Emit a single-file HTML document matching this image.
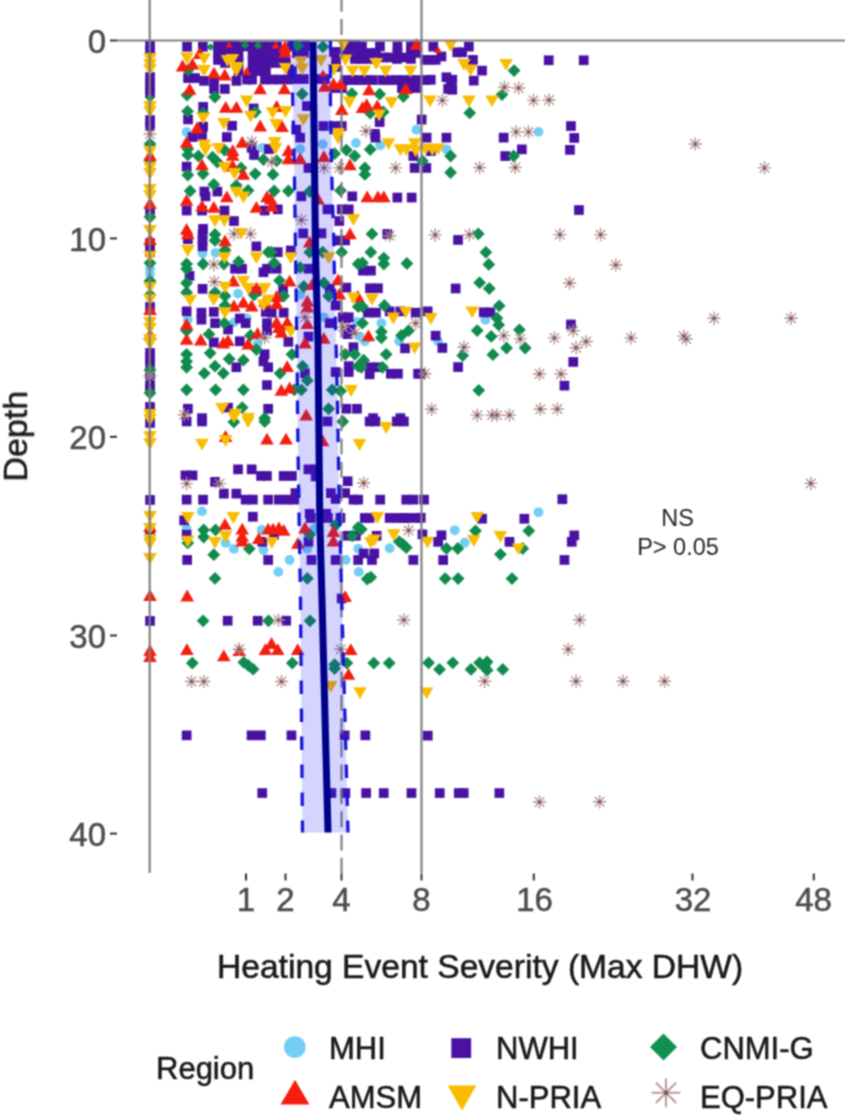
<!DOCTYPE html>
<html><head><meta charset="utf-8">
<style>
html,body{margin:0;padding:0;background:#fff;}
body{width:845px;height:1115px;overflow:hidden;position:relative;}
svg{position:absolute;left:0;top:0;}
text{font-family:"Liberation Sans",sans-serif;}
</style></head><body>
<svg width="845" height="1115" viewBox="0 0 845 1115">
<defs><filter id="bl" filterUnits="userSpaceOnUse" x="0" y="0" width="845" height="1115" color-interpolation-filters="sRGB"><feConvolveMatrix order="3" kernelMatrix="1 2 1 2 4 2 1 2 1" divisor="16" edgeMode="duplicate"/></filter></defs>
<g filter="url(#bl)">
<rect x="0" y="0" width="845" height="1115" fill="#fff"/>
<g id="pts"><circle cx="186.6" cy="132" r="4.9" fill="#72cff3"/>
<circle cx="416.4" cy="129.7" r="4.9" fill="#72cff3"/>
<circle cx="262.3" cy="147.8" r="4.9" fill="#72cff3"/>
<circle cx="300.2" cy="148.9" r="4.9" fill="#72cff3"/>
<circle cx="322.7" cy="144.2" r="4.9" fill="#72cff3"/>
<circle cx="355.9" cy="143" r="4.9" fill="#72cff3"/>
<circle cx="380.2" cy="145.4" r="4.9" fill="#72cff3"/>
<circle cx="187.8" cy="319.7" r="4.9" fill="#72cff3"/>
<circle cx="202.5" cy="253.4" r="4.9" fill="#72cff3"/>
<circle cx="215.6" cy="252.8" r="4.9" fill="#72cff3"/>
<circle cx="238" cy="293.6" r="4.9" fill="#72cff3"/>
<circle cx="246.9" cy="318.5" r="4.9" fill="#72cff3"/>
<circle cx="300.2" cy="294.8" r="4.9" fill="#72cff3"/>
<circle cx="323.9" cy="317.3" r="4.9" fill="#72cff3"/>
<circle cx="357" cy="322" r="4.9" fill="#72cff3"/>
<circle cx="381.4" cy="323.2" r="4.9" fill="#72cff3"/>
<circle cx="150" cy="269" r="4.9" fill="#72cff3"/>
<circle cx="150" cy="274" r="4.9" fill="#72cff3"/>
<circle cx="233.9" cy="322.4" r="4.9" fill="#72cff3"/>
<circle cx="257.6" cy="343.7" r="4.9" fill="#72cff3"/>
<circle cx="360.1" cy="336.6" r="4.9" fill="#72cff3"/>
<circle cx="364.9" cy="341.3" r="4.9" fill="#72cff3"/>
<circle cx="399.2" cy="341.3" r="4.9" fill="#72cff3"/>
<circle cx="202" cy="511.4" r="4.9" fill="#72cff3"/>
<circle cx="186.6" cy="528.7" r="4.9" fill="#72cff3"/>
<circle cx="225.6" cy="542.9" r="4.9" fill="#72cff3"/>
<circle cx="233.9" cy="548.8" r="4.9" fill="#72cff3"/>
<circle cx="261.7" cy="529.9" r="4.9" fill="#72cff3"/>
<circle cx="263.5" cy="550" r="4.9" fill="#72cff3"/>
<circle cx="314.4" cy="528.7" r="4.9" fill="#72cff3"/>
<circle cx="307.3" cy="548.8" r="4.9" fill="#72cff3"/>
<circle cx="358.2" cy="548.8" r="4.9" fill="#72cff3"/>
<circle cx="289.6" cy="560" r="4.9" fill="#72cff3"/>
<circle cx="345.8" cy="560" r="4.9" fill="#72cff3"/>
<circle cx="278.3" cy="571.9" r="4.9" fill="#72cff3"/>
<circle cx="358.8" cy="571.9" r="4.9" fill="#72cff3"/>
<circle cx="389.7" cy="548.2" r="4.9" fill="#72cff3"/>
<circle cx="538.5" cy="512.3" r="4.9" fill="#72cff3"/>
<circle cx="538.5" cy="131.9" r="4.9" fill="#72cff3"/>
<circle cx="446.5" cy="149.3" r="4.9" fill="#72cff3"/>
<circle cx="485.4" cy="319.9" r="4.9" fill="#72cff3"/>
<circle cx="438.2" cy="341.4" r="4.9" fill="#72cff3"/>
<circle cx="454.8" cy="530.3" r="4.9" fill="#72cff3"/>
<circle cx="464.7" cy="542.7" r="4.9" fill="#72cff3"/>
<rect x="182.2" y="41.9" width="9.7" height="9.7" fill="#4a12a4"/>
<rect x="198" y="41.9" width="9.7" height="9.7" fill="#4a12a4"/>
<rect x="213.2" y="41.1" width="9.7" height="9.7" fill="#4a12a4"/>
<rect x="221.2" y="41.1" width="9.7" height="9.7" fill="#4a12a4"/>
<rect x="229.2" y="41.1" width="9.7" height="9.7" fill="#4a12a4"/>
<rect x="213.2" y="48.1" width="9.7" height="9.7" fill="#4a12a4"/>
<rect x="221.2" y="48.1" width="9.7" height="9.7" fill="#4a12a4"/>
<rect x="229.2" y="48.1" width="9.7" height="9.7" fill="#4a12a4"/>
<rect x="213.2" y="55.1" width="9.7" height="9.7" fill="#4a12a4"/>
<rect x="220.2" y="58.1" width="9.7" height="9.7" fill="#4a12a4"/>
<rect x="183.2" y="73.2" width="9.7" height="9.7" fill="#4a12a4"/>
<rect x="190.2" y="73.2" width="9.7" height="9.7" fill="#4a12a4"/>
<rect x="199.2" y="76" width="9.7" height="9.7" fill="#4a12a4"/>
<rect x="209.2" y="76.9" width="9.7" height="9.7" fill="#4a12a4"/>
<rect x="231.6" y="76" width="9.7" height="9.7" fill="#4a12a4"/>
<rect x="209.2" y="84.1" width="9.7" height="9.7" fill="#4a12a4"/>
<rect x="220" y="84.1" width="9.7" height="9.7" fill="#4a12a4"/>
<rect x="183.2" y="114.6" width="9.7" height="9.7" fill="#4a12a4"/>
<rect x="198.3" y="102" width="9.7" height="9.7" fill="#4a12a4"/>
<rect x="198.3" y="121.8" width="9.7" height="9.7" fill="#4a12a4"/>
<rect x="227.2" y="120.9" width="9.7" height="9.7" fill="#4a12a4"/>
<rect x="357.1" y="41.6" width="9.7" height="9.7" fill="#4a12a4"/>
<rect x="375.1" y="41.6" width="9.7" height="9.7" fill="#4a12a4"/>
<rect x="392.6" y="41.6" width="9.7" height="9.7" fill="#4a12a4"/>
<rect x="406.1" y="41.6" width="9.7" height="9.7" fill="#4a12a4"/>
<rect x="411.1" y="41.6" width="9.7" height="9.7" fill="#4a12a4"/>
<rect x="357.1" y="48.1" width="9.7" height="9.7" fill="#4a12a4"/>
<rect x="364.1" y="48.1" width="9.7" height="9.7" fill="#4a12a4"/>
<rect x="371.1" y="48.1" width="9.7" height="9.7" fill="#4a12a4"/>
<rect x="392.6" y="48.1" width="9.7" height="9.7" fill="#4a12a4"/>
<rect x="406.1" y="48.1" width="9.7" height="9.7" fill="#4a12a4"/>
<rect x="411.1" y="48.1" width="9.7" height="9.7" fill="#4a12a4"/>
<rect x="378.1" y="52.6" width="9.7" height="9.7" fill="#4a12a4"/>
<rect x="385.1" y="52.6" width="9.7" height="9.7" fill="#4a12a4"/>
<rect x="399.1" y="52.6" width="9.7" height="9.7" fill="#4a12a4"/>
<rect x="233.7" y="41.6" width="9.7" height="9.7" fill="#4a12a4"/>
<rect x="241.2" y="41.6" width="9.7" height="9.7" fill="#4a12a4"/>
<rect x="247.7" y="41.6" width="9.7" height="9.7" fill="#4a12a4"/>
<rect x="256.1" y="41.6" width="9.7" height="9.7" fill="#4a12a4"/>
<rect x="264.1" y="41.6" width="9.7" height="9.7" fill="#4a12a4"/>
<rect x="272.1" y="41.6" width="9.7" height="9.7" fill="#4a12a4"/>
<rect x="233.7" y="50.1" width="9.7" height="9.7" fill="#4a12a4"/>
<rect x="247.7" y="50.1" width="9.7" height="9.7" fill="#4a12a4"/>
<rect x="256.1" y="50.1" width="9.7" height="9.7" fill="#4a12a4"/>
<rect x="264.1" y="50.1" width="9.7" height="9.7" fill="#4a12a4"/>
<rect x="272.1" y="50.1" width="9.7" height="9.7" fill="#4a12a4"/>
<rect x="280.1" y="50.1" width="9.7" height="9.7" fill="#4a12a4"/>
<rect x="233.7" y="58.1" width="9.7" height="9.7" fill="#4a12a4"/>
<rect x="247.7" y="58.1" width="9.7" height="9.7" fill="#4a12a4"/>
<rect x="256.1" y="58.1" width="9.7" height="9.7" fill="#4a12a4"/>
<rect x="264.1" y="58.1" width="9.7" height="9.7" fill="#4a12a4"/>
<rect x="272.1" y="58.1" width="9.7" height="9.7" fill="#4a12a4"/>
<rect x="281.1" y="58.1" width="9.7" height="9.7" fill="#4a12a4"/>
<rect x="233.7" y="66.2" width="9.7" height="9.7" fill="#4a12a4"/>
<rect x="247.7" y="66.2" width="9.7" height="9.7" fill="#4a12a4"/>
<rect x="256.1" y="66.2" width="9.7" height="9.7" fill="#4a12a4"/>
<rect x="261.1" y="66.2" width="9.7" height="9.7" fill="#4a12a4"/>
<rect x="242.2" y="74.7" width="9.7" height="9.7" fill="#4a12a4"/>
<rect x="247.2" y="74.7" width="9.7" height="9.7" fill="#4a12a4"/>
<rect x="260.1" y="74.7" width="9.7" height="9.7" fill="#4a12a4"/>
<rect x="268.1" y="74.7" width="9.7" height="9.7" fill="#4a12a4"/>
<rect x="276.1" y="74.7" width="9.7" height="9.7" fill="#4a12a4"/>
<rect x="283.1" y="74.7" width="9.7" height="9.7" fill="#4a12a4"/>
<rect x="287.1" y="41.1" width="9.7" height="9.7" fill="#4a12a4"/>
<rect x="300.1" y="41.1" width="9.7" height="9.7" fill="#4a12a4"/>
<rect x="292.1" y="48.1" width="9.7" height="9.7" fill="#4a12a4"/>
<rect x="299.1" y="48.1" width="9.7" height="9.7" fill="#4a12a4"/>
<rect x="292.1" y="74.2" width="9.7" height="9.7" fill="#4a12a4"/>
<rect x="299.1" y="74.2" width="9.7" height="9.7" fill="#4a12a4"/>
<rect x="313.1" y="74.2" width="9.7" height="9.7" fill="#4a12a4"/>
<rect x="320.1" y="74.2" width="9.7" height="9.7" fill="#4a12a4"/>
<rect x="302.1" y="101.2" width="9.7" height="9.7" fill="#4a12a4"/>
<rect x="248.8" y="103.6" width="9.7" height="9.7" fill="#4a12a4"/>
<rect x="291.4" y="124.8" width="9.7" height="9.7" fill="#4a12a4"/>
<rect x="318.6" y="121.2" width="9.7" height="9.7" fill="#4a12a4"/>
<rect x="343.1" y="40.1" width="9.7" height="9.7" fill="#4a12a4"/>
<rect x="350.1" y="40.1" width="9.7" height="9.7" fill="#4a12a4"/>
<rect x="329.1" y="47.1" width="9.7" height="9.7" fill="#4a12a4"/>
<rect x="336.1" y="47.1" width="9.7" height="9.7" fill="#4a12a4"/>
<rect x="343.1" y="47.1" width="9.7" height="9.7" fill="#4a12a4"/>
<rect x="350.1" y="47.1" width="9.7" height="9.7" fill="#4a12a4"/>
<rect x="350.1" y="54.1" width="9.7" height="9.7" fill="#4a12a4"/>
<rect x="357.1" y="54.1" width="9.7" height="9.7" fill="#4a12a4"/>
<rect x="364.1" y="54.1" width="9.7" height="9.7" fill="#4a12a4"/>
<rect x="392.1" y="54.1" width="9.7" height="9.7" fill="#4a12a4"/>
<rect x="406.1" y="54.1" width="9.7" height="9.7" fill="#4a12a4"/>
<rect x="340.1" y="75.2" width="9.7" height="9.7" fill="#4a12a4"/>
<rect x="347.1" y="75.2" width="9.7" height="9.7" fill="#4a12a4"/>
<rect x="354.1" y="75.2" width="9.7" height="9.7" fill="#4a12a4"/>
<rect x="361.1" y="75.2" width="9.7" height="9.7" fill="#4a12a4"/>
<rect x="368.1" y="75.2" width="9.7" height="9.7" fill="#4a12a4"/>
<rect x="378.1" y="75.2" width="9.7" height="9.7" fill="#4a12a4"/>
<rect x="385.1" y="75.2" width="9.7" height="9.7" fill="#4a12a4"/>
<rect x="392.1" y="75.2" width="9.7" height="9.7" fill="#4a12a4"/>
<rect x="399.1" y="75.2" width="9.7" height="9.7" fill="#4a12a4"/>
<rect x="406.1" y="75.2" width="9.7" height="9.7" fill="#4a12a4"/>
<rect x="413.1" y="75.2" width="9.7" height="9.7" fill="#4a12a4"/>
<rect x="421.1" y="75.2" width="9.7" height="9.7" fill="#4a12a4"/>
<rect x="330.1" y="83.2" width="9.7" height="9.7" fill="#4a12a4"/>
<rect x="337.1" y="83.2" width="9.7" height="9.7" fill="#4a12a4"/>
<rect x="397.1" y="83.2" width="9.7" height="9.7" fill="#4a12a4"/>
<rect x="404.1" y="83.2" width="9.7" height="9.7" fill="#4a12a4"/>
<rect x="411.1" y="83.2" width="9.7" height="9.7" fill="#4a12a4"/>
<rect x="374.8" y="117.2" width="9.7" height="9.7" fill="#4a12a4"/>
<rect x="328.6" y="121.2" width="9.7" height="9.7" fill="#4a12a4"/>
<rect x="336.9" y="121.2" width="9.7" height="9.7" fill="#4a12a4"/>
<rect x="370.1" y="129" width="9.7" height="9.7" fill="#4a12a4"/>
<rect x="287.1" y="66.2" width="9.7" height="9.7" fill="#4a12a4"/>
<rect x="331.1" y="55.1" width="9.7" height="9.7" fill="#4a12a4"/>
<rect x="331.1" y="62.1" width="9.7" height="9.7" fill="#4a12a4"/>
<rect x="187.7" y="132.2" width="9.7" height="9.7" fill="#4a12a4"/>
<rect x="197.2" y="131.1" width="9.7" height="9.7" fill="#4a12a4"/>
<rect x="222" y="132.2" width="9.7" height="9.7" fill="#4a12a4"/>
<rect x="246.8" y="143" width="9.7" height="9.7" fill="#4a12a4"/>
<rect x="249.2" y="150.1" width="9.7" height="9.7" fill="#4a12a4"/>
<rect x="264.1" y="144.2" width="9.7" height="9.7" fill="#4a12a4"/>
<rect x="181.8" y="161.8" width="9.7" height="9.7" fill="#4a12a4"/>
<rect x="199.5" y="186.7" width="9.7" height="9.7" fill="#4a12a4"/>
<rect x="200.7" y="191.5" width="9.7" height="9.7" fill="#4a12a4"/>
<rect x="212.5" y="186.7" width="9.7" height="9.7" fill="#4a12a4"/>
<rect x="181.8" y="205.7" width="9.7" height="9.7" fill="#4a12a4"/>
<rect x="197.2" y="205.7" width="9.7" height="9.7" fill="#4a12a4"/>
<rect x="219.6" y="205.7" width="9.7" height="9.7" fill="#4a12a4"/>
<rect x="259.8" y="205.7" width="9.7" height="9.7" fill="#4a12a4"/>
<rect x="229.1" y="216.2" width="9.7" height="9.7" fill="#4a12a4"/>
<rect x="198.2" y="224" width="9.7" height="9.7" fill="#4a12a4"/>
<rect x="295.3" y="132.8" width="9.7" height="9.7" fill="#4a12a4"/>
<rect x="303.6" y="163.1" width="9.7" height="9.7" fill="#4a12a4"/>
<rect x="272.9" y="204.5" width="9.7" height="9.7" fill="#4a12a4"/>
<rect x="296.5" y="191.5" width="9.7" height="9.7" fill="#4a12a4"/>
<rect x="347.4" y="191.5" width="9.7" height="9.7" fill="#4a12a4"/>
<rect x="322.6" y="204.5" width="9.7" height="9.7" fill="#4a12a4"/>
<rect x="336.8" y="204.5" width="9.7" height="9.7" fill="#4a12a4"/>
<rect x="343.9" y="204.5" width="9.7" height="9.7" fill="#4a12a4"/>
<rect x="334.4" y="216.2" width="9.7" height="9.7" fill="#4a12a4"/>
<rect x="370.6" y="132.8" width="9.7" height="9.7" fill="#4a12a4"/>
<rect x="408.5" y="151.2" width="9.7" height="9.7" fill="#4a12a4"/>
<rect x="409.8" y="163.1" width="9.7" height="9.7" fill="#4a12a4"/>
<rect x="421.5" y="163.1" width="9.7" height="9.7" fill="#4a12a4"/>
<rect x="392.5" y="192.7" width="9.7" height="9.7" fill="#4a12a4"/>
<rect x="406.8" y="192.7" width="9.7" height="9.7" fill="#4a12a4"/>
<rect x="183" y="234.3" width="9.7" height="9.7" fill="#4a12a4"/>
<rect x="184.7" y="271" width="9.7" height="9.7" fill="#4a12a4"/>
<rect x="181.8" y="306.5" width="9.7" height="9.7" fill="#4a12a4"/>
<rect x="197.7" y="229.7" width="9.7" height="9.7" fill="#4a12a4"/>
<rect x="197.7" y="235.6" width="9.7" height="9.7" fill="#4a12a4"/>
<rect x="197.7" y="241.5" width="9.7" height="9.7" fill="#4a12a4"/>
<rect x="197.7" y="284" width="9.7" height="9.7" fill="#4a12a4"/>
<rect x="196.6" y="307.8" width="9.7" height="9.7" fill="#4a12a4"/>
<rect x="196.6" y="314.8" width="9.7" height="9.7" fill="#4a12a4"/>
<rect x="209" y="307.1" width="9.7" height="9.7" fill="#4a12a4"/>
<rect x="210.2" y="318.3" width="9.7" height="9.7" fill="#4a12a4"/>
<rect x="230.2" y="263.9" width="9.7" height="9.7" fill="#4a12a4"/>
<rect x="237.2" y="263.9" width="9.7" height="9.7" fill="#4a12a4"/>
<rect x="235" y="313.6" width="9.7" height="9.7" fill="#4a12a4"/>
<rect x="240.8" y="318.3" width="9.7" height="9.7" fill="#4a12a4"/>
<rect x="251.5" y="241.5" width="9.7" height="9.7" fill="#4a12a4"/>
<rect x="258.6" y="267.4" width="9.7" height="9.7" fill="#4a12a4"/>
<rect x="262.1" y="263.9" width="9.7" height="9.7" fill="#4a12a4"/>
<rect x="251.5" y="286.4" width="9.7" height="9.7" fill="#4a12a4"/>
<rect x="261" y="307.1" width="9.7" height="9.7" fill="#4a12a4"/>
<rect x="262.1" y="318.3" width="9.7" height="9.7" fill="#4a12a4"/>
<rect x="298.3" y="228.5" width="9.7" height="9.7" fill="#4a12a4"/>
<rect x="316.6" y="228.5" width="9.7" height="9.7" fill="#4a12a4"/>
<rect x="340.3" y="235.6" width="9.7" height="9.7" fill="#4a12a4"/>
<rect x="333.2" y="235.6" width="9.7" height="9.7" fill="#4a12a4"/>
<rect x="272.9" y="247.3" width="9.7" height="9.7" fill="#4a12a4"/>
<rect x="285.9" y="245.6" width="9.7" height="9.7" fill="#4a12a4"/>
<rect x="303.6" y="263.9" width="9.7" height="9.7" fill="#4a12a4"/>
<rect x="271.8" y="263.9" width="9.7" height="9.7" fill="#4a12a4"/>
<rect x="278.2" y="284" width="9.7" height="9.7" fill="#4a12a4"/>
<rect x="324.9" y="284" width="9.7" height="9.7" fill="#4a12a4"/>
<rect x="341.5" y="282.8" width="9.7" height="9.7" fill="#4a12a4"/>
<rect x="330.8" y="300.6" width="9.7" height="9.7" fill="#4a12a4"/>
<rect x="266.9" y="307.8" width="9.7" height="9.7" fill="#4a12a4"/>
<rect x="278.8" y="307.8" width="9.7" height="9.7" fill="#4a12a4"/>
<rect x="337.9" y="312.4" width="9.7" height="9.7" fill="#4a12a4"/>
<rect x="343.9" y="312.4" width="9.7" height="9.7" fill="#4a12a4"/>
<rect x="324.9" y="318.3" width="9.7" height="9.7" fill="#4a12a4"/>
<rect x="382.4" y="229.1" width="9.7" height="9.7" fill="#4a12a4"/>
<rect x="358.1" y="265.8" width="9.7" height="9.7" fill="#4a12a4"/>
<rect x="366.1" y="265.8" width="9.7" height="9.7" fill="#4a12a4"/>
<rect x="365.1" y="283.4" width="9.7" height="9.7" fill="#4a12a4"/>
<rect x="373.1" y="283.4" width="9.7" height="9.7" fill="#4a12a4"/>
<rect x="363.1" y="307.8" width="9.7" height="9.7" fill="#4a12a4"/>
<rect x="371.1" y="307.8" width="9.7" height="9.7" fill="#4a12a4"/>
<rect x="384.8" y="306.5" width="9.7" height="9.7" fill="#4a12a4"/>
<rect x="395.5" y="306.5" width="9.7" height="9.7" fill="#4a12a4"/>
<rect x="410.8" y="307.8" width="9.7" height="9.7" fill="#4a12a4"/>
<rect x="422.8" y="306.5" width="9.7" height="9.7" fill="#4a12a4"/>
<rect x="341" y="313.6" width="9.7" height="9.7" fill="#4a12a4"/>
<rect x="145.2" y="40.1" width="9.7" height="9.7" fill="#4a12a4"/>
<rect x="145.2" y="46.1" width="9.7" height="9.7" fill="#4a12a4"/>
<rect x="145.2" y="72.2" width="9.7" height="9.7" fill="#4a12a4"/>
<rect x="145.2" y="78.2" width="9.7" height="9.7" fill="#4a12a4"/>
<rect x="145.2" y="84.2" width="9.7" height="9.7" fill="#4a12a4"/>
<rect x="145.2" y="88.2" width="9.7" height="9.7" fill="#4a12a4"/>
<rect x="145.2" y="115.2" width="9.7" height="9.7" fill="#4a12a4"/>
<rect x="145.2" y="121.2" width="9.7" height="9.7" fill="#4a12a4"/>
<rect x="145.2" y="205.2" width="9.7" height="9.7" fill="#4a12a4"/>
<rect x="145.2" y="238.2" width="9.7" height="9.7" fill="#4a12a4"/>
<rect x="145.2" y="247.2" width="9.7" height="9.7" fill="#4a12a4"/>
<rect x="145.2" y="302.1" width="9.7" height="9.7" fill="#4a12a4"/>
<rect x="145.2" y="348.1" width="9.7" height="9.7" fill="#4a12a4"/>
<rect x="145.2" y="353.1" width="9.7" height="9.7" fill="#4a12a4"/>
<rect x="145.2" y="358.1" width="9.7" height="9.7" fill="#4a12a4"/>
<rect x="145.2" y="371.1" width="9.7" height="9.7" fill="#4a12a4"/>
<rect x="145.2" y="380.1" width="9.7" height="9.7" fill="#4a12a4"/>
<rect x="145.2" y="384.1" width="9.7" height="9.7" fill="#4a12a4"/>
<rect x="145.2" y="402.1" width="9.7" height="9.7" fill="#4a12a4"/>
<rect x="145.2" y="418.1" width="9.7" height="9.7" fill="#4a12a4"/>
<rect x="145.2" y="495.1" width="9.7" height="9.7" fill="#4a12a4"/>
<rect x="145.2" y="529.1" width="9.7" height="9.7" fill="#4a12a4"/>
<rect x="145.2" y="616.1" width="9.7" height="9.7" fill="#4a12a4"/>
<rect x="209" y="337.6" width="9.7" height="9.7" fill="#4a12a4"/>
<rect x="223.2" y="324.6" width="9.7" height="9.7" fill="#4a12a4"/>
<rect x="235" y="336.4" width="9.7" height="9.7" fill="#4a12a4"/>
<rect x="231.5" y="362.4" width="9.7" height="9.7" fill="#4a12a4"/>
<rect x="259.8" y="349.4" width="9.7" height="9.7" fill="#4a12a4"/>
<rect x="258.6" y="356.5" width="9.7" height="9.7" fill="#4a12a4"/>
<rect x="263.3" y="362.4" width="9.7" height="9.7" fill="#4a12a4"/>
<rect x="262.1" y="380.2" width="9.7" height="9.7" fill="#4a12a4"/>
<rect x="183" y="403.9" width="9.7" height="9.7" fill="#4a12a4"/>
<rect x="223.2" y="402.8" width="9.7" height="9.7" fill="#4a12a4"/>
<rect x="263.3" y="403.9" width="9.7" height="9.7" fill="#4a12a4"/>
<rect x="197.2" y="413.3" width="9.7" height="9.7" fill="#4a12a4"/>
<rect x="262.2" y="325.8" width="9.7" height="9.7" fill="#4a12a4"/>
<rect x="283.5" y="337" width="9.7" height="9.7" fill="#4a12a4"/>
<rect x="303.6" y="331.8" width="9.7" height="9.7" fill="#4a12a4"/>
<rect x="342.8" y="329.3" width="9.7" height="9.7" fill="#4a12a4"/>
<rect x="346.2" y="324.6" width="9.7" height="9.7" fill="#4a12a4"/>
<rect x="348.6" y="342.3" width="9.7" height="9.7" fill="#4a12a4"/>
<rect x="300.1" y="368.4" width="9.7" height="9.7" fill="#4a12a4"/>
<rect x="330.8" y="367.2" width="9.7" height="9.7" fill="#4a12a4"/>
<rect x="343.9" y="367.2" width="9.7" height="9.7" fill="#4a12a4"/>
<rect x="343.9" y="361.3" width="9.7" height="9.7" fill="#4a12a4"/>
<rect x="341.5" y="403.9" width="9.7" height="9.7" fill="#4a12a4"/>
<rect x="352.1" y="403.9" width="9.7" height="9.7" fill="#4a12a4"/>
<rect x="400.2" y="343.5" width="9.7" height="9.7" fill="#4a12a4"/>
<rect x="365.9" y="362.4" width="9.7" height="9.7" fill="#4a12a4"/>
<rect x="373" y="362.4" width="9.7" height="9.7" fill="#4a12a4"/>
<rect x="364.8" y="369.5" width="9.7" height="9.7" fill="#4a12a4"/>
<rect x="386" y="368.9" width="9.7" height="9.7" fill="#4a12a4"/>
<rect x="393.1" y="368.9" width="9.7" height="9.7" fill="#4a12a4"/>
<rect x="413.2" y="368.9" width="9.7" height="9.7" fill="#4a12a4"/>
<rect x="368.2" y="413.3" width="9.7" height="9.7" fill="#4a12a4"/>
<rect x="395.5" y="413.3" width="9.7" height="9.7" fill="#4a12a4"/>
<rect x="181.8" y="416.6" width="9.7" height="9.7" fill="#4a12a4"/>
<rect x="197.2" y="416.6" width="9.7" height="9.7" fill="#4a12a4"/>
<rect x="233.2" y="464.5" width="9.7" height="9.7" fill="#4a12a4"/>
<rect x="246.8" y="464.5" width="9.7" height="9.7" fill="#4a12a4"/>
<rect x="256.2" y="471.1" width="9.7" height="9.7" fill="#4a12a4"/>
<rect x="262.1" y="471.1" width="9.7" height="9.7" fill="#4a12a4"/>
<rect x="180.6" y="470.5" width="9.7" height="9.7" fill="#4a12a4"/>
<rect x="187.7" y="470.5" width="9.7" height="9.7" fill="#4a12a4"/>
<rect x="210.2" y="477" width="9.7" height="9.7" fill="#4a12a4"/>
<rect x="219" y="488.8" width="9.7" height="9.7" fill="#4a12a4"/>
<rect x="231.5" y="488.8" width="9.7" height="9.7" fill="#4a12a4"/>
<rect x="240.8" y="494.8" width="9.7" height="9.7" fill="#4a12a4"/>
<rect x="248" y="494.8" width="9.7" height="9.7" fill="#4a12a4"/>
<rect x="181.8" y="494.8" width="9.7" height="9.7" fill="#4a12a4"/>
<rect x="198.2" y="494.8" width="9.7" height="9.7" fill="#4a12a4"/>
<rect x="263.3" y="494.8" width="9.7" height="9.7" fill="#4a12a4"/>
<rect x="322.6" y="416.6" width="9.7" height="9.7" fill="#4a12a4"/>
<rect x="303.6" y="464.5" width="9.7" height="9.7" fill="#4a12a4"/>
<rect x="310.8" y="464.5" width="9.7" height="9.7" fill="#4a12a4"/>
<rect x="310.8" y="471.6" width="9.7" height="9.7" fill="#4a12a4"/>
<rect x="278.8" y="471.1" width="9.7" height="9.7" fill="#4a12a4"/>
<rect x="287.1" y="471.1" width="9.7" height="9.7" fill="#4a12a4"/>
<rect x="342.8" y="476.4" width="9.7" height="9.7" fill="#4a12a4"/>
<rect x="290.6" y="488.2" width="9.7" height="9.7" fill="#4a12a4"/>
<rect x="274" y="494.8" width="9.7" height="9.7" fill="#4a12a4"/>
<rect x="282.3" y="494.8" width="9.7" height="9.7" fill="#4a12a4"/>
<rect x="289.4" y="494.8" width="9.7" height="9.7" fill="#4a12a4"/>
<rect x="326.1" y="488.2" width="9.7" height="9.7" fill="#4a12a4"/>
<rect x="330.8" y="494.1" width="9.7" height="9.7" fill="#4a12a4"/>
<rect x="340.3" y="488.2" width="9.7" height="9.7" fill="#4a12a4"/>
<rect x="348.6" y="494.8" width="9.7" height="9.7" fill="#4a12a4"/>
<rect x="353.3" y="494.8" width="9.7" height="9.7" fill="#4a12a4"/>
<rect x="304.8" y="508.9" width="9.7" height="9.7" fill="#4a12a4"/>
<rect x="321.4" y="508.9" width="9.7" height="9.7" fill="#4a12a4"/>
<rect x="364.8" y="416.6" width="9.7" height="9.7" fill="#4a12a4"/>
<rect x="370.6" y="416.6" width="9.7" height="9.7" fill="#4a12a4"/>
<rect x="391.9" y="416.6" width="9.7" height="9.7" fill="#4a12a4"/>
<rect x="399" y="416.6" width="9.7" height="9.7" fill="#4a12a4"/>
<rect x="375.3" y="494.8" width="9.7" height="9.7" fill="#4a12a4"/>
<rect x="401.4" y="494.8" width="9.7" height="9.7" fill="#4a12a4"/>
<rect x="408.5" y="494.8" width="9.7" height="9.7" fill="#4a12a4"/>
<rect x="179.3" y="515.5" width="9.7" height="9.7" fill="#4a12a4"/>
<rect x="248" y="511.9" width="9.7" height="9.7" fill="#4a12a4"/>
<rect x="181.8" y="529.8" width="9.7" height="9.7" fill="#4a12a4"/>
<rect x="257.4" y="536.9" width="9.7" height="9.7" fill="#4a12a4"/>
<rect x="182.3" y="555.1" width="9.7" height="9.7" fill="#4a12a4"/>
<rect x="263.3" y="555.1" width="9.7" height="9.7" fill="#4a12a4"/>
<rect x="269.3" y="529.8" width="9.7" height="9.7" fill="#4a12a4"/>
<rect x="306" y="513.1" width="9.7" height="9.7" fill="#4a12a4"/>
<rect x="323.1" y="513.1" width="9.7" height="9.7" fill="#4a12a4"/>
<rect x="335.6" y="513.1" width="9.7" height="9.7" fill="#4a12a4"/>
<rect x="303.6" y="536.9" width="9.7" height="9.7" fill="#4a12a4"/>
<rect x="342.8" y="530.9" width="9.7" height="9.7" fill="#4a12a4"/>
<rect x="351" y="530.9" width="9.7" height="9.7" fill="#4a12a4"/>
<rect x="306.6" y="555.1" width="9.7" height="9.7" fill="#4a12a4"/>
<rect x="330.8" y="555.1" width="9.7" height="9.7" fill="#4a12a4"/>
<rect x="353.3" y="555.1" width="9.7" height="9.7" fill="#4a12a4"/>
<rect x="336.8" y="593.6" width="9.7" height="9.7" fill="#4a12a4"/>
<rect x="360" y="513.1" width="9.7" height="9.7" fill="#4a12a4"/>
<rect x="364.8" y="513.1" width="9.7" height="9.7" fill="#4a12a4"/>
<rect x="384.8" y="513.1" width="9.7" height="9.7" fill="#4a12a4"/>
<rect x="391.9" y="513.1" width="9.7" height="9.7" fill="#4a12a4"/>
<rect x="399" y="513.1" width="9.7" height="9.7" fill="#4a12a4"/>
<rect x="402.6" y="513.1" width="9.7" height="9.7" fill="#4a12a4"/>
<rect x="412" y="513.1" width="9.7" height="9.7" fill="#4a12a4"/>
<rect x="371.8" y="530.9" width="9.7" height="9.7" fill="#4a12a4"/>
<rect x="358.8" y="548.6" width="9.7" height="9.7" fill="#4a12a4"/>
<rect x="369.4" y="548.6" width="9.7" height="9.7" fill="#4a12a4"/>
<rect x="367.1" y="555.1" width="9.7" height="9.7" fill="#4a12a4"/>
<rect x="408.5" y="555.1" width="9.7" height="9.7" fill="#4a12a4"/>
<rect x="222.8" y="615.9" width="9.7" height="9.7" fill="#4a12a4"/>
<rect x="252.8" y="615.9" width="9.7" height="9.7" fill="#4a12a4"/>
<rect x="281.3" y="615.9" width="9.7" height="9.7" fill="#4a12a4"/>
<rect x="181.8" y="730.5" width="9.7" height="9.7" fill="#4a12a4"/>
<rect x="246.7" y="730.5" width="9.7" height="9.7" fill="#4a12a4"/>
<rect x="256" y="730.5" width="9.7" height="9.7" fill="#4a12a4"/>
<rect x="286.6" y="730.5" width="9.7" height="9.7" fill="#4a12a4"/>
<rect x="257.4" y="788.2" width="9.7" height="9.7" fill="#4a12a4"/>
<rect x="339.8" y="730.5" width="9.7" height="9.7" fill="#4a12a4"/>
<rect x="360.5" y="730.5" width="9.7" height="9.7" fill="#4a12a4"/>
<rect x="326.6" y="788.2" width="9.7" height="9.7" fill="#4a12a4"/>
<rect x="340.5" y="788.2" width="9.7" height="9.7" fill="#4a12a4"/>
<rect x="361.3" y="788.2" width="9.7" height="9.7" fill="#4a12a4"/>
<rect x="378.9" y="788.2" width="9.7" height="9.7" fill="#4a12a4"/>
<rect x="406.6" y="788.2" width="9.7" height="9.7" fill="#4a12a4"/>
<rect x="543.9" y="55.4" width="9.7" height="9.7" fill="#4a12a4"/>
<rect x="578.9" y="55.4" width="9.7" height="9.7" fill="#4a12a4"/>
<rect x="566.1" y="121.2" width="9.7" height="9.7" fill="#4a12a4"/>
<rect x="569.4" y="133.1" width="9.7" height="9.7" fill="#4a12a4"/>
<rect x="565.1" y="145" width="9.7" height="9.7" fill="#4a12a4"/>
<rect x="574.1" y="205.2" width="9.7" height="9.7" fill="#4a12a4"/>
<rect x="566.1" y="319.6" width="9.7" height="9.7" fill="#4a12a4"/>
<rect x="568.4" y="357.1" width="9.7" height="9.7" fill="#4a12a4"/>
<rect x="559.6" y="380.8" width="9.7" height="9.7" fill="#4a12a4"/>
<rect x="557.5" y="494.4" width="9.7" height="9.7" fill="#4a12a4"/>
<rect x="569.4" y="530.5" width="9.7" height="9.7" fill="#4a12a4"/>
<rect x="566.9" y="537" width="9.7" height="9.7" fill="#4a12a4"/>
<rect x="559.6" y="555.1" width="9.7" height="9.7" fill="#4a12a4"/>
<rect x="428.4" y="41.8" width="9.7" height="9.7" fill="#4a12a4"/>
<rect x="464" y="41.8" width="9.7" height="9.7" fill="#4a12a4"/>
<rect x="452.4" y="47.5" width="9.7" height="9.7" fill="#4a12a4"/>
<rect x="457.3" y="47.5" width="9.7" height="9.7" fill="#4a12a4"/>
<rect x="420.1" y="55" width="9.7" height="9.7" fill="#4a12a4"/>
<rect x="425.1" y="55" width="9.7" height="9.7" fill="#4a12a4"/>
<rect x="430.8" y="55" width="9.7" height="9.7" fill="#4a12a4"/>
<rect x="436.6" y="51.6" width="9.7" height="9.7" fill="#4a12a4"/>
<rect x="468.1" y="55" width="9.7" height="9.7" fill="#4a12a4"/>
<rect x="477.2" y="65.8" width="9.7" height="9.7" fill="#4a12a4"/>
<rect x="425.9" y="74.9" width="9.7" height="9.7" fill="#4a12a4"/>
<rect x="441.6" y="72.4" width="9.7" height="9.7" fill="#4a12a4"/>
<rect x="447.4" y="74.9" width="9.7" height="9.7" fill="#4a12a4"/>
<rect x="445.8" y="79.9" width="9.7" height="9.7" fill="#4a12a4"/>
<rect x="447.4" y="84.9" width="9.7" height="9.7" fill="#4a12a4"/>
<rect x="443.3" y="84" width="9.7" height="9.7" fill="#4a12a4"/>
<rect x="468.9" y="75.8" width="9.7" height="9.7" fill="#4a12a4"/>
<rect x="416.8" y="114.7" width="9.7" height="9.7" fill="#4a12a4"/>
<rect x="421.8" y="132.8" width="9.7" height="9.7" fill="#4a12a4"/>
<rect x="441.6" y="132.8" width="9.7" height="9.7" fill="#4a12a4"/>
<rect x="498.8" y="132.8" width="9.7" height="9.7" fill="#4a12a4"/>
<rect x="425.9" y="146.2" width="9.7" height="9.7" fill="#4a12a4"/>
<rect x="517" y="144.5" width="9.7" height="9.7" fill="#4a12a4"/>
<rect x="500.4" y="151.2" width="9.7" height="9.7" fill="#4a12a4"/>
<rect x="453.2" y="235.1" width="9.7" height="9.7" fill="#4a12a4"/>
<rect x="450.8" y="283.6" width="9.7" height="9.7" fill="#4a12a4"/>
<rect x="478.9" y="307.5" width="9.7" height="9.7" fill="#4a12a4"/>
<rect x="485.5" y="307.5" width="9.7" height="9.7" fill="#4a12a4"/>
<rect x="430.8" y="330.8" width="9.7" height="9.7" fill="#4a12a4"/>
<rect x="437.5" y="343.1" width="9.7" height="9.7" fill="#4a12a4"/>
<rect x="453.2" y="362.2" width="9.7" height="9.7" fill="#4a12a4"/>
<rect x="415.9" y="368.8" width="9.7" height="9.7" fill="#4a12a4"/>
<rect x="419.2" y="494.8" width="9.7" height="9.7" fill="#4a12a4"/>
<rect x="415.9" y="512.9" width="9.7" height="9.7" fill="#4a12a4"/>
<rect x="477.2" y="513.9" width="9.7" height="9.7" fill="#4a12a4"/>
<rect x="519.5" y="513.9" width="9.7" height="9.7" fill="#4a12a4"/>
<rect x="417.6" y="529.5" width="9.7" height="9.7" fill="#4a12a4"/>
<rect x="436.6" y="530.4" width="9.7" height="9.7" fill="#4a12a4"/>
<rect x="433.3" y="537" width="9.7" height="9.7" fill="#4a12a4"/>
<rect x="504.6" y="537" width="9.7" height="9.7" fill="#4a12a4"/>
<rect x="438.3" y="555.2" width="9.7" height="9.7" fill="#4a12a4"/>
<rect x="422.9" y="730.8" width="9.7" height="9.7" fill="#4a12a4"/>
<rect x="434.9" y="788.2" width="9.7" height="9.7" fill="#4a12a4"/>
<rect x="453.9" y="788.2" width="9.7" height="9.7" fill="#4a12a4"/>
<rect x="458.9" y="788.2" width="9.7" height="9.7" fill="#4a12a4"/>
<rect x="494.5" y="788.2" width="9.7" height="9.7" fill="#4a12a4"/>
<path d="M210.5 43.2L214.3 47L210.5 50.8L206.7 47Z" fill="#118b4d"/>
<path d="M188 63.6L194.4 70L188 76.4L181.6 70Z" fill="#118b4d"/>
<path d="M187 88.7L193.4 95.1L187 101.5L180.6 95.1Z" fill="#118b4d"/>
<path d="M214.9 90.6L221.3 97L214.9 103.4L208.5 97Z" fill="#118b4d"/>
<path d="M187.5 104.9L193.9 111.3L187.5 117.7L181.1 111.3Z" fill="#118b4d"/>
<path d="M203.2 106.7L209.6 113.1L203.2 119.5L196.8 113.1Z" fill="#118b4d"/>
<path d="M245 40.8L249.2 45L245 49.2L240.8 45Z" fill="#118b4d"/>
<path d="M258 41.3L262.2 45.5L258 49.7L253.8 45.5Z" fill="#118b4d"/>
<path d="M297.5 39.3L303.9 45.7L297.5 52.1L291.1 45.7Z" fill="#118b4d"/>
<path d="M322.9 40.4L329.3 46.8L322.9 53.2L316.5 46.8Z" fill="#118b4d"/>
<path d="M302.2 87.6L308.6 94L302.2 100.4L295.8 94Z" fill="#118b4d"/>
<path d="M255.4 105.6L261.8 112L255.4 118.4L249 112Z" fill="#118b4d"/>
<path d="M351.9 87.2L358.3 93.6L351.9 100L345.5 93.6Z" fill="#118b4d"/>
<path d="M379.7 87.8L386.1 94.2L379.7 100.6L373.3 94.2Z" fill="#118b4d"/>
<path d="M403.4 90.1L409.8 96.5L403.4 102.9L397 96.5Z" fill="#118b4d"/>
<path d="M370.2 106.7L376.6 113.1L370.2 119.5L363.8 113.1Z" fill="#118b4d"/>
<path d="M383.3 105.5L389.7 111.9L383.3 118.3L376.9 111.9Z" fill="#118b4d"/>
<path d="M187.8 142.5L194.2 148.9L187.8 155.3L181.4 148.9Z" fill="#118b4d"/>
<path d="M187.8 148.5L194.2 154.9L187.8 161.3L181.4 154.9Z" fill="#118b4d"/>
<path d="M224.4 143.7L230.8 150.1L224.4 156.5L218 150.1Z" fill="#118b4d"/>
<path d="M212.6 150.8L219 157.2L212.6 163.6L206.2 157.2Z" fill="#118b4d"/>
<path d="M217.3 155.6L223.7 162L217.3 168.4L210.9 162Z" fill="#118b4d"/>
<path d="M198.4 149.6L204.8 156L198.4 162.4L192 156Z" fill="#118b4d"/>
<path d="M263.5 153.2L269.9 159.6L263.5 166L257.1 159.6Z" fill="#118b4d"/>
<path d="M203.1 167.4L209.5 173.8L203.1 180.2L196.7 173.8Z" fill="#118b4d"/>
<path d="M187.8 168.6L194.2 175L187.8 181.4L181.4 175Z" fill="#118b4d"/>
<path d="M241 161.5L247.4 167.9L241 174.3L234.6 167.9Z" fill="#118b4d"/>
<path d="M255.2 167.4L261.6 173.8L255.2 180.2L248.8 173.8Z" fill="#118b4d"/>
<path d="M213.8 178L220.2 184.4L213.8 190.8L207.4 184.4Z" fill="#118b4d"/>
<path d="M190.1 184.6L196.5 191L190.1 197.4L183.7 191Z" fill="#118b4d"/>
<path d="M236.3 179.2L242.7 185.6L236.3 192L229.9 185.6Z" fill="#118b4d"/>
<path d="M248.1 184L254.5 190.4L248.1 196.8L241.7 190.4Z" fill="#118b4d"/>
<path d="M276.6 154.4L283 160.8L276.6 167.2L270.2 160.8Z" fill="#118b4d"/>
<path d="M273 168L279.4 174.4L273 180.8L266.6 174.4Z" fill="#118b4d"/>
<path d="M346.4 143.7L352.8 150.1L346.4 156.5L340 150.1Z" fill="#118b4d"/>
<path d="M354.7 149.6L361.1 156L354.7 162.4L348.3 156Z" fill="#118b4d"/>
<path d="M334.6 147.3L341 153.7L334.6 160.1L328.2 153.7Z" fill="#118b4d"/>
<path d="M274.2 184.6L280.6 191L274.2 197.4L267.8 191Z" fill="#118b4d"/>
<path d="M288.4 184.6L294.8 191L288.4 197.4L282 191Z" fill="#118b4d"/>
<path d="M309.7 185.1L316.1 191.5L309.7 197.9L303.3 191.5Z" fill="#118b4d"/>
<path d="M340.5 184L346.9 190.4L340.5 196.8L334.1 190.4Z" fill="#118b4d"/>
<path d="M370.2 143.1L376.6 149.5L370.2 155.9L363.8 149.5Z" fill="#118b4d"/>
<path d="M364.9 161.5L371.3 167.9L364.9 174.3L358.5 167.9Z" fill="#118b4d"/>
<path d="M364.9 168L371.3 174.4L364.9 180.8L358.5 174.4Z" fill="#118b4d"/>
<path d="M186.6 257.6L193 264L186.6 270.4L180.2 264Z" fill="#118b4d"/>
<path d="M186.6 262.4L193 268.8L186.6 275.2L180.2 268.8Z" fill="#118b4d"/>
<path d="M186.6 276.6L193 283L186.6 289.4L180.2 283Z" fill="#118b4d"/>
<path d="M186.6 286.1L193 292.5L186.6 298.9L180.2 292.5Z" fill="#118b4d"/>
<path d="M203.1 257.6L209.5 264L203.1 270.4L196.7 264Z" fill="#118b4d"/>
<path d="M215 228.1L221.4 234.5L215 240.9L208.6 234.5Z" fill="#118b4d"/>
<path d="M215 234L221.4 240.4L215 246.8L208.6 240.4Z" fill="#118b4d"/>
<path d="M215 286.1L221.4 292.5L215 298.9L208.6 292.5Z" fill="#118b4d"/>
<path d="M225 243.5L231.4 249.9L225 256.3L218.6 249.9Z" fill="#118b4d"/>
<path d="M223.8 257.6L230.2 264L223.8 270.4L217.4 264Z" fill="#118b4d"/>
<path d="M225 289.6L231.4 296L225 302.4L218.6 296Z" fill="#118b4d"/>
<path d="M225 299.1L231.4 305.5L225 311.9L218.6 305.5Z" fill="#118b4d"/>
<path d="M224.4 316.8L230.8 323.2L224.4 329.6L218 323.2Z" fill="#118b4d"/>
<path d="M238.6 255.3L245 261.7L238.6 268.1L232.2 261.7Z" fill="#118b4d"/>
<path d="M268.2 245.8L274.6 252.2L268.2 258.6L261.8 252.2Z" fill="#118b4d"/>
<path d="M254 288.4L260.4 294.8L254 301.2L247.6 294.8Z" fill="#118b4d"/>
<path d="M271.2 245.8L277.6 252.2L271.2 258.6L264.8 252.2Z" fill="#118b4d"/>
<path d="M309.7 245.8L316.1 252.2L309.7 258.6L303.3 252.2Z" fill="#118b4d"/>
<path d="M322.7 245.8L329.1 252.2L322.7 258.6L316.3 252.2Z" fill="#118b4d"/>
<path d="M341.7 245.8L348.1 252.2L341.7 258.6L335.3 252.2Z" fill="#118b4d"/>
<path d="M300.2 261.2L306.6 267.6L300.2 274L293.8 267.6Z" fill="#118b4d"/>
<path d="M274.2 256.5L280.6 262.9L274.2 269.3L267.8 262.9Z" fill="#118b4d"/>
<path d="M358.2 257.6L364.6 264L358.2 270.4L351.8 264Z" fill="#118b4d"/>
<path d="M279.5 274.2L285.9 280.6L279.5 287L273.1 280.6Z" fill="#118b4d"/>
<path d="M283.7 289.6L290.1 296L283.7 302.4L277.3 296Z" fill="#118b4d"/>
<path d="M303.8 280.1L310.2 286.5L303.8 292.9L297.4 286.5Z" fill="#118b4d"/>
<path d="M323.9 276.6L330.3 283L323.9 289.4L317.5 283Z" fill="#118b4d"/>
<path d="M328.6 289.6L335 296L328.6 302.4L322.2 296Z" fill="#118b4d"/>
<path d="M358.2 300.3L364.6 306.7L358.2 313.1L351.8 306.7Z" fill="#118b4d"/>
<path d="M372 227.5L378.4 233.9L372 240.3L365.6 233.9Z" fill="#118b4d"/>
<path d="M370.8 245.8L377.2 252.2L370.8 258.6L364.4 252.2Z" fill="#118b4d"/>
<path d="M383.8 251.7L390.2 258.1L383.8 264.5L377.4 258.1Z" fill="#118b4d"/>
<path d="M383.8 257.6L390.2 264L383.8 270.4L377.4 264Z" fill="#118b4d"/>
<path d="M362.5 256.5L368.9 262.9L362.5 269.3L356.1 262.9Z" fill="#118b4d"/>
<path d="M406.9 257.1L413.3 263.5L406.9 269.9L400.5 263.5Z" fill="#118b4d"/>
<path d="M362.5 300.3L368.9 306.7L362.5 313.1L356.1 306.7Z" fill="#118b4d"/>
<path d="M384.4 299.1L390.8 305.5L384.4 311.9L378 305.5Z" fill="#118b4d"/>
<path d="M362.5 316.8L368.9 323.2L362.5 329.6L356.1 323.2Z" fill="#118b4d"/>
<path d="M150 93.5L154.5 98L150 102.5L145.5 98Z" fill="#118b4d"/>
<path d="M150 137.6L156.4 144L150 150.4L143.6 144Z" fill="#118b4d"/>
<path d="M150 153.6L156.4 160L150 166.4L143.6 160Z" fill="#118b4d"/>
<path d="M150 210.6L156.4 217L150 223.4L143.6 217Z" fill="#118b4d"/>
<path d="M150 256.6L156.4 263L150 269.4L143.6 263Z" fill="#118b4d"/>
<path d="M150 274.6L156.4 281L150 287.4L143.6 281Z" fill="#118b4d"/>
<path d="M150 288.6L156.4 295L150 301.4L143.6 295Z" fill="#118b4d"/>
<path d="M150 363.6L156.4 370L150 376.4L143.6 370Z" fill="#118b4d"/>
<path d="M150 386.6L156.4 393L150 399.4L143.6 393Z" fill="#118b4d"/>
<path d="M186.6 324.3L193 330.7L186.6 337.1L180.2 330.7Z" fill="#118b4d"/>
<path d="M209 327.8L215.4 334.2L209 340.6L202.6 334.2Z" fill="#118b4d"/>
<path d="M250.5 329L256.9 335.4L250.5 341.8L244.1 335.4Z" fill="#118b4d"/>
<path d="M256.4 343.2L262.8 349.6L256.4 356L250 349.6Z" fill="#118b4d"/>
<path d="M186.6 347.9L193 354.3L186.6 360.7L180.2 354.3Z" fill="#118b4d"/>
<path d="M186.6 355L193 361.4L186.6 367.8L180.2 361.4Z" fill="#118b4d"/>
<path d="M186.6 360.9L193 367.3L186.6 373.7L180.2 367.3Z" fill="#118b4d"/>
<path d="M210.2 346.7L216.6 353.1L210.2 359.5L203.8 353.1Z" fill="#118b4d"/>
<path d="M215 359.8L221.4 366.2L215 372.6L208.6 366.2Z" fill="#118b4d"/>
<path d="M204.3 366.9L210.7 373.3L204.3 379.7L197.9 373.3Z" fill="#118b4d"/>
<path d="M223.3 366.9L229.7 373.3L223.3 379.7L216.9 373.3Z" fill="#118b4d"/>
<path d="M229.2 352.6L235.6 359L229.2 365.4L222.8 359Z" fill="#118b4d"/>
<path d="M243.4 353.8L249.8 360.2L243.4 366.6L237 360.2Z" fill="#118b4d"/>
<path d="M186.6 383.4L193 389.8L186.6 396.2L180.2 389.8Z" fill="#118b4d"/>
<path d="M215.6 383.4L222 389.8L215.6 396.2L209.2 389.8Z" fill="#118b4d"/>
<path d="M243.4 383.4L249.8 389.8L243.4 396.2L237 389.8Z" fill="#118b4d"/>
<path d="M242.2 401.2L248.6 407.6L242.2 414L235.8 407.6Z" fill="#118b4d"/>
<path d="M264.7 411.8L271.1 418.2L264.7 424.6L258.3 418.2Z" fill="#118b4d"/>
<path d="M345.2 347.9L351.6 354.3L345.2 360.7L338.8 354.3Z" fill="#118b4d"/>
<path d="M354.7 347.9L361.1 354.3L354.7 360.7L348.3 354.3Z" fill="#118b4d"/>
<path d="M292 347.9L298.4 354.3L292 360.7L285.6 354.3Z" fill="#118b4d"/>
<path d="M280.1 366.9L286.5 373.3L280.1 379.7L273.7 373.3Z" fill="#118b4d"/>
<path d="M302.6 359.8L309 366.2L302.6 372.6L296.2 366.2Z" fill="#118b4d"/>
<path d="M307.3 374L313.7 380.4L307.3 386.8L300.9 380.4Z" fill="#118b4d"/>
<path d="M301.4 383.4L307.8 389.8L301.4 396.2L295 389.8Z" fill="#118b4d"/>
<path d="M358.2 359.8L364.6 366.2L358.2 372.6L351.8 366.2Z" fill="#118b4d"/>
<path d="M294.3 383.4L300.7 389.8L294.3 396.2L287.9 389.8Z" fill="#118b4d"/>
<path d="M332.2 383.4L338.6 389.8L332.2 396.2L325.8 389.8Z" fill="#118b4d"/>
<path d="M340.5 384.6L346.9 391L340.5 397.4L334.1 391Z" fill="#118b4d"/>
<path d="M328.6 402.4L335 408.8L328.6 415.2L322.2 408.8Z" fill="#118b4d"/>
<path d="M381.4 325.4L387.8 331.8L381.4 338.2L375 331.8Z" fill="#118b4d"/>
<path d="M381.4 331.4L387.8 337.8L381.4 344.2L375 337.8Z" fill="#118b4d"/>
<path d="M401.5 329L407.9 335.4L401.5 341.8L395.1 335.4Z" fill="#118b4d"/>
<path d="M408.6 324.3L415 330.7L408.6 337.1L402.2 330.7Z" fill="#118b4d"/>
<path d="M386.2 347.9L392.6 354.3L386.2 360.7L379.8 354.3Z" fill="#118b4d"/>
<path d="M363.7 353.8L370.1 360.2L363.7 366.6L357.3 360.2Z" fill="#118b4d"/>
<path d="M361.3 360.9L367.7 367.3L361.3 373.7L354.9 367.3Z" fill="#118b4d"/>
<path d="M382.6 360.9L389 367.3L382.6 373.7L376.2 367.3Z" fill="#118b4d"/>
<path d="M233.9 415.7L240.3 422.1L233.9 428.5L227.5 422.1Z" fill="#118b4d"/>
<path d="M264.7 415.1L271.1 421.5L264.7 427.9L258.3 421.5Z" fill="#118b4d"/>
<path d="M342.8 415.1L349.2 421.5L342.8 427.9L336.4 421.5Z" fill="#118b4d"/>
<path d="M187.8 536.5L194.2 542.9L187.8 549.3L181.4 542.9Z" fill="#118b4d"/>
<path d="M203.7 523.5L210.1 529.9L203.7 536.3L197.3 529.9Z" fill="#118b4d"/>
<path d="M203.7 530.6L210.1 537L203.7 543.4L197.3 537Z" fill="#118b4d"/>
<path d="M215.6 523.5L222 529.9L215.6 536.3L209.2 529.9Z" fill="#118b4d"/>
<path d="M249.3 542.4L255.7 548.8L249.3 555.2L242.9 548.8Z" fill="#118b4d"/>
<path d="M213.8 548.3L220.2 554.7L213.8 561.1L207.4 554.7Z" fill="#118b4d"/>
<path d="M215 572L221.4 578.4L215 584.8L208.6 578.4Z" fill="#118b4d"/>
<path d="M309.7 528.2L316.1 534.6L309.7 541L303.3 534.6Z" fill="#118b4d"/>
<path d="M335.7 518.7L342.1 525.1L335.7 531.5L329.3 525.1Z" fill="#118b4d"/>
<path d="M352.3 529.4L358.7 535.8L352.3 542.2L345.9 535.8Z" fill="#118b4d"/>
<path d="M358.2 521.1L364.6 527.5L358.2 533.9L351.8 527.5Z" fill="#118b4d"/>
<path d="M307.3 572L313.7 578.4L307.3 584.8L300.9 578.4Z" fill="#118b4d"/>
<path d="M361.3 522.9L367.7 529.3L361.3 535.7L354.9 529.3Z" fill="#118b4d"/>
<path d="M399.2 535.3L405.6 541.7L399.2 548.1L392.8 541.7Z" fill="#118b4d"/>
<path d="M403 538.1L409.4 544.5L403 550.9L396.6 544.5Z" fill="#118b4d"/>
<path d="M406.3 541.2L412.7 547.6L406.3 554L399.9 547.6Z" fill="#118b4d"/>
<path d="M367.2 572.6L373.6 579L367.2 585.4L360.8 579Z" fill="#118b4d"/>
<path d="M370.8 570.8L377.2 577.2L370.8 583.6L364.4 577.2Z" fill="#118b4d"/>
<path d="M203.1 614.4L209.5 620.8L203.1 627.2L196.7 620.8Z" fill="#118b4d"/>
<path d="M268.5 614.4L274.9 620.8L268.5 627.2L262.1 620.8Z" fill="#118b4d"/>
<path d="M192.3 656.7L198.7 663.1L192.3 669.5L185.9 663.1Z" fill="#118b4d"/>
<path d="M243.8 655.9L250.2 662.3L243.8 668.7L237.4 662.3Z" fill="#118b4d"/>
<path d="M248.5 659.3L254.9 665.7L248.5 672.1L242.1 665.7Z" fill="#118b4d"/>
<path d="M253.1 662.8L259.5 669.2L253.1 675.6L246.7 669.2Z" fill="#118b4d"/>
<path d="M292.3 656.7L298.7 663.1L292.3 669.5L285.9 663.1Z" fill="#118b4d"/>
<path d="M310 614.4L316.4 620.8L310 627.2L303.6 620.8Z" fill="#118b4d"/>
<path d="M334.6 658.2L341 664.6L334.6 671L328.2 664.6Z" fill="#118b4d"/>
<path d="M334.6 662.1L341 668.5L334.6 674.9L328.2 668.5Z" fill="#118b4d"/>
<path d="M346.9 656.7L353.3 663.1L346.9 669.5L340.5 663.1Z" fill="#118b4d"/>
<path d="M373.8 656.7L380.2 663.1L373.8 669.5L367.4 663.1Z" fill="#118b4d"/>
<path d="M389.2 656.7L395.6 663.1L389.2 669.5L382.8 663.1Z" fill="#118b4d"/>
<path d="M514.1 64.2L520.5 70.6L514.1 77L507.7 70.6Z" fill="#118b4d"/>
<path d="M502 88.2L508.4 94.6L502 101L495.6 94.6Z" fill="#118b4d"/>
<path d="M469.7 106.5L476.1 112.9L469.7 119.3L463.3 112.9Z" fill="#118b4d"/>
<path d="M450.6 149.6L457 156L450.6 162.4L444.2 156Z" fill="#118b4d"/>
<path d="M513.6 149.6L520 156L513.6 162.4L507.2 156Z" fill="#118b4d"/>
<path d="M422.5 154.5L428.9 160.9L422.5 167.3L416.1 160.9Z" fill="#118b4d"/>
<path d="M450.6 166.1L457 172.5L450.6 178.9L444.2 172.5Z" fill="#118b4d"/>
<path d="M478.3 227.4L484.7 233.8L478.3 240.2L471.9 233.8Z" fill="#118b4d"/>
<path d="M485.9 245.9L492.3 252.3L485.9 258.7L479.5 252.3Z" fill="#118b4d"/>
<path d="M488.8 258L495.2 264.4L488.8 270.8L482.4 264.4Z" fill="#118b4d"/>
<path d="M479.6 276.3L486 282.7L479.6 289.1L473.2 282.7Z" fill="#118b4d"/>
<path d="M489.3 282.1L495.7 288.5L489.3 294.9L482.9 288.5Z" fill="#118b4d"/>
<path d="M499.2 299.4L505.6 305.8L499.2 312.2L492.8 305.8Z" fill="#118b4d"/>
<path d="M497 311.8L503.4 318.2L497 324.6L490.6 318.2Z" fill="#118b4d"/>
<path d="M498.7 318.5L505.1 324.9L498.7 331.3L492.3 324.9Z" fill="#118b4d"/>
<path d="M477.2 324.2L483.6 330.6L477.2 337L470.8 330.6Z" fill="#118b4d"/>
<path d="M491.2 330L497.6 336.4L491.2 342.8L484.8 336.4Z" fill="#118b4d"/>
<path d="M519.4 323.4L525.8 329.8L519.4 336.2L513 329.8Z" fill="#118b4d"/>
<path d="M506.5 341.6L512.9 348L506.5 354.4L500.1 348Z" fill="#118b4d"/>
<path d="M525.2 341.6L531.6 348L525.2 354.4L518.8 348Z" fill="#118b4d"/>
<path d="M492.9 348.3L499.3 354.7L492.9 361.1L486.5 354.7Z" fill="#118b4d"/>
<path d="M462.7 349.1L469.1 355.5L462.7 361.9L456.3 355.5Z" fill="#118b4d"/>
<path d="M478.8 383.9L485.2 390.3L478.8 396.7L472.4 390.3Z" fill="#118b4d"/>
<path d="M475.5 524.4L481.9 530.8L475.5 537.2L469.1 530.8Z" fill="#118b4d"/>
<path d="M528.8 524.4L535.2 530.8L528.8 537.2L522.4 530.8Z" fill="#118b4d"/>
<path d="M446.5 542.1L452.9 548.5L446.5 554.9L440.1 548.5Z" fill="#118b4d"/>
<path d="M457.8 542.1L464.2 548.5L457.8 554.9L451.4 548.5Z" fill="#118b4d"/>
<path d="M522.7 542.1L529.1 548.5L522.7 554.9L516.3 548.5Z" fill="#118b4d"/>
<path d="M500.4 547.9L506.8 554.3L500.4 560.7L494 554.3Z" fill="#118b4d"/>
<path d="M445.2 572.2L451.6 578.6L445.2 585L438.8 578.6Z" fill="#118b4d"/>
<path d="M458.1 572.2L464.5 578.6L458.1 585L451.7 578.6Z" fill="#118b4d"/>
<path d="M512 572.2L518.4 578.6L512 585L505.6 578.6Z" fill="#118b4d"/>
<path d="M428.6 656.4L435 662.8L428.6 669.2L422.2 662.8Z" fill="#118b4d"/>
<path d="M439.5 663L445.9 669.4L439.5 675.8L433.1 669.4Z" fill="#118b4d"/>
<path d="M452.8 656.4L459.2 662.8L452.8 669.2L446.4 662.8Z" fill="#118b4d"/>
<path d="M471 663L477.4 669.4L471 675.8L464.6 669.4Z" fill="#118b4d"/>
<path d="M479.6 656.4L486 662.8L479.6 669.2L473.2 662.8Z" fill="#118b4d"/>
<path d="M487.1 655.6L493.5 662L487.1 668.4L480.7 662Z" fill="#118b4d"/>
<path d="M484.6 660.5L491 666.9L484.6 673.3L478.2 666.9Z" fill="#118b4d"/>
<path d="M487.1 663.8L493.5 670.2L487.1 676.6L480.7 670.2Z" fill="#118b4d"/>
<path d="M502.8 663L509.2 669.4L502.8 675.8L496.4 669.4Z" fill="#118b4d"/>
<path d="M229 41.6L232.4 47.4H225.6Z" fill="#f41e10"/>
<path d="M199.6 47.1L206.4 58.9H192.8Z" fill="#f41e10"/>
<path d="M182.6 59.6L189.4 71.4H175.8Z" fill="#f41e10"/>
<path d="M192.4 57.8L199.2 69.6H185.6Z" fill="#f41e10"/>
<path d="M214 66.8L220.8 78.6H207.2Z" fill="#f41e10"/>
<path d="M224.8 68.6L231.6 80.4H218Z" fill="#f41e10"/>
<path d="M189.7 83L196.5 94.8H182.9Z" fill="#f41e10"/>
<path d="M225.7 100.9L232.5 112.7H218.9Z" fill="#f41e10"/>
<path d="M236.4 100.9L243.2 112.7H229.6Z" fill="#f41e10"/>
<path d="M197 121.6L203.8 133.4H190.2Z" fill="#f41e10"/>
<path d="M275.6 41.5L279.7 48.5H271.5Z" fill="#f41e10"/>
<path d="M285 40.6L291.8 52.4H278.2Z" fill="#f41e10"/>
<path d="M285 45.6L291.8 57.4H278.2Z" fill="#f41e10"/>
<path d="M246.6 66.9L251.4 75.1H241.8Z" fill="#f41e10"/>
<path d="M260.2 82.4L267 94.2H253.4Z" fill="#f41e10"/>
<path d="M284.4 82.4L291.2 94.2H277.6Z" fill="#f41e10"/>
<path d="M324.7 80L331.5 91.8H317.9Z" fill="#f41e10"/>
<path d="M276.7 100.1L283.5 111.9H269.9Z" fill="#f41e10"/>
<path d="M260.2 119.6L267 131.4H253.4Z" fill="#f41e10"/>
<path d="M282.1 120.2L288.9 132H275.3Z" fill="#f41e10"/>
<path d="M416.4 38L423.2 49.8H409.6Z" fill="#f41e10"/>
<path d="M369 83.5L375.8 95.3H362.2Z" fill="#f41e10"/>
<path d="M405.7 82.4L412.5 94.2H398.9Z" fill="#f41e10"/>
<path d="M333.5 77.6L340.3 89.4H326.7Z" fill="#f41e10"/>
<path d="M340.6 77.6L347.4 89.4H333.8Z" fill="#f41e10"/>
<path d="M341.8 103.1L348.6 114.9H335Z" fill="#f41e10"/>
<path d="M362.5 101.3L369.3 113.1H355.7Z" fill="#f41e10"/>
<path d="M366.7 98.3L373.5 110.1H359.9Z" fill="#f41e10"/>
<path d="M377.3 99.5L384.1 111.3H370.5Z" fill="#f41e10"/>
<path d="M323 69.5L327.1 76.5H318.9Z" fill="#f41e10"/>
<path d="M186.6 135.9L193.4 147.7H179.8Z" fill="#f41e10"/>
<path d="M232.7 144.2L239.5 156H225.9Z" fill="#f41e10"/>
<path d="M232.7 149L239.5 160.8H225.9Z" fill="#f41e10"/>
<path d="M242.2 135.9L249 147.7H235.4Z" fill="#f41e10"/>
<path d="M202 158.4L208.8 170.2H195.2Z" fill="#f41e10"/>
<path d="M232.7 159.6L239.5 171.4H225.9Z" fill="#f41e10"/>
<path d="M243.4 167.9L250.2 179.7H236.6Z" fill="#f41e10"/>
<path d="M226.8 190.4L233.6 202.2H220Z" fill="#f41e10"/>
<path d="M186.6 193.9L193.4 205.7H179.8Z" fill="#f41e10"/>
<path d="M267 190.4L273.8 202.2H260.2Z" fill="#f41e10"/>
<path d="M202 199.8L208.8 211.6H195.2Z" fill="#f41e10"/>
<path d="M213.8 201L220.6 212.8H207Z" fill="#f41e10"/>
<path d="M256.4 201L263.2 212.8H249.6Z" fill="#f41e10"/>
<path d="M186.6 222.9L193.4 234.7H179.8Z" fill="#f41e10"/>
<path d="M288.4 144.2L295.2 156H281.6Z" fill="#f41e10"/>
<path d="M288.4 152.5L295.2 164.3H281.6Z" fill="#f41e10"/>
<path d="M300.2 152.5L307 164.3H293.4Z" fill="#f41e10"/>
<path d="M323.9 150.1L330.7 161.9H317.1Z" fill="#f41e10"/>
<path d="M349.9 158.4L356.7 170.2H343.1Z" fill="#f41e10"/>
<path d="M270.7 192.7L277.5 204.5H263.9Z" fill="#f41e10"/>
<path d="M271.8 199.8L278.6 211.6H265Z" fill="#f41e10"/>
<path d="M318 192.7L324.8 204.5H311.2Z" fill="#f41e10"/>
<path d="M367.2 190.4L374 202.2H360.4Z" fill="#f41e10"/>
<path d="M377.9 190.4L384.7 202.2H371.1Z" fill="#f41e10"/>
<path d="M383.8 190.4L390.6 202.2H377Z" fill="#f41e10"/>
<path d="M187.8 227.4L194.6 239.2H181Z" fill="#f41e10"/>
<path d="M186.6 317.9L193.4 329.7H179.8Z" fill="#f41e10"/>
<path d="M225 234.5L231.8 246.3H218.2Z" fill="#f41e10"/>
<path d="M233.3 274.7L240.1 286.5H226.5Z" fill="#f41e10"/>
<path d="M233.9 299.6L240.7 311.4H227.1Z" fill="#f41e10"/>
<path d="M243.4 296L250.2 307.8H236.6Z" fill="#f41e10"/>
<path d="M251.7 299.6L258.5 311.4H244.9Z" fill="#f41e10"/>
<path d="M256.4 281.8L263.2 293.6H249.6Z" fill="#f41e10"/>
<path d="M265 295.1L271.8 306.9H258.2Z" fill="#f41e10"/>
<path d="M309.7 235.7L316.5 247.5H302.9Z" fill="#f41e10"/>
<path d="M350 227.4L356.8 239.2H343.2Z" fill="#f41e10"/>
<path d="M289.6 274.7L296.4 286.5H282.8Z" fill="#f41e10"/>
<path d="M276.6 290.1L283.4 301.9H269.8Z" fill="#f41e10"/>
<path d="M276.6 297.2L283.4 309H269.8Z" fill="#f41e10"/>
<path d="M307.3 294.8L314.1 306.6H300.5Z" fill="#f41e10"/>
<path d="M307.3 300.8L314.1 312.6H300.5Z" fill="#f41e10"/>
<path d="M312.1 278.3L318.9 290.1H305.3Z" fill="#f41e10"/>
<path d="M338.1 273.5L344.9 285.3H331.3Z" fill="#f41e10"/>
<path d="M339.3 287.7L346.1 299.5H332.5Z" fill="#f41e10"/>
<path d="M276.6 316.1L283.4 327.9H269.8Z" fill="#f41e10"/>
<path d="M287.2 316.1L294 327.9H280.4Z" fill="#f41e10"/>
<path d="M307.3 317.3L314.1 329.1H300.5Z" fill="#f41e10"/>
<path d="M357.8 290.1L364.6 301.9H351Z" fill="#f41e10"/>
<path d="M150 149.1L156.8 160.9H143.2Z" fill="#f41e10"/>
<path d="M150 197.1L156.8 208.9H143.2Z" fill="#f41e10"/>
<path d="M150 233.1L156.8 244.9H143.2Z" fill="#f41e10"/>
<path d="M150 303.1L156.8 314.9H143.2Z" fill="#f41e10"/>
<path d="M150 328.1L156.8 339.9H143.2Z" fill="#f41e10"/>
<path d="M150 520.1L156.8 531.9H143.2Z" fill="#f41e10"/>
<path d="M150 589.1L156.8 600.9H143.2Z" fill="#f41e10"/>
<path d="M150 644.1L156.8 655.9H143.2Z" fill="#f41e10"/>
<path d="M150 650.1L156.8 661.9H143.2Z" fill="#f41e10"/>
<path d="M186.6 333L193.4 344.8H179.8Z" fill="#f41e10"/>
<path d="M200.8 333.6L207.6 345.4H194Z" fill="#f41e10"/>
<path d="M228 334.2L234.8 346H221.2Z" fill="#f41e10"/>
<path d="M223.3 336.6L230.1 348.4H216.5Z" fill="#f41e10"/>
<path d="M248.1 337.8L254.9 349.6H241.3Z" fill="#f41e10"/>
<path d="M257.6 327.1L264.4 338.9H250.8Z" fill="#f41e10"/>
<path d="M278.9 321.2L285.7 333H272.1Z" fill="#f41e10"/>
<path d="M287.2 318.8L294 330.6H280.4Z" fill="#f41e10"/>
<path d="M281.3 325.9L288.1 337.7H274.5Z" fill="#f41e10"/>
<path d="M305 336.6L311.8 348.4H298.2Z" fill="#f41e10"/>
<path d="M323.9 331.9L330.7 343.7H317.1Z" fill="#f41e10"/>
<path d="M287.2 360.3L294 372.1H280.4Z" fill="#f41e10"/>
<path d="M281.3 383.9L288.1 395.7H274.5Z" fill="#f41e10"/>
<path d="M289.6 381.6L296.4 393.4H282.8Z" fill="#f41e10"/>
<path d="M306.2 408.8L313 420.6H299.4Z" fill="#f41e10"/>
<path d="M368.4 329.5L375.2 341.3H361.6Z" fill="#f41e10"/>
<path d="M225.6 430.1L232.4 441.9H218.8Z" fill="#f41e10"/>
<path d="M267 432.8L273.8 444.6H260.2Z" fill="#f41e10"/>
<path d="M286 432.8L292.8 444.6H279.2Z" fill="#f41e10"/>
<path d="M322.7 434.5L329.5 446.3H315.9Z" fill="#f41e10"/>
<path d="M225 518L231.8 529.8H218.2Z" fill="#f41e10"/>
<path d="M242.2 522.8L249 534.6H235.4Z" fill="#f41e10"/>
<path d="M242.2 529.9L249 541.7H235.4Z" fill="#f41e10"/>
<path d="M242.2 534.6L249 546.4H235.4Z" fill="#f41e10"/>
<path d="M268.2 522.8L275 534.6H261.4Z" fill="#f41e10"/>
<path d="M258.8 532.2L265.6 544H252Z" fill="#f41e10"/>
<path d="M187.2 589.6L194 601.4H180.4Z" fill="#f41e10"/>
<path d="M273 522.8L279.8 534.6H266.2Z" fill="#f41e10"/>
<path d="M278.9 521.6L285.7 533.4H272.1Z" fill="#f41e10"/>
<path d="M283.7 524L290.5 535.8H276.9Z" fill="#f41e10"/>
<path d="M305 521.6L311.8 533.4H298.2Z" fill="#f41e10"/>
<path d="M297.9 537L304.7 548.8H291.1Z" fill="#f41e10"/>
<path d="M333.4 525.1L340.2 536.9H326.6Z" fill="#f41e10"/>
<path d="M333.4 534.6L340.2 546.4H326.6Z" fill="#f41e10"/>
<path d="M345.2 590.2L352 602H338.4Z" fill="#f41e10"/>
<path d="M186.9 643.3L193.7 655.1H180.1Z" fill="#f41e10"/>
<path d="M223.8 649.5L230.6 661.3H217Z" fill="#f41e10"/>
<path d="M239.2 644.1L246 655.9H232.4Z" fill="#f41e10"/>
<path d="M271.5 637.1L278.3 648.9H264.7Z" fill="#f41e10"/>
<path d="M265.4 643.3L272.2 655.1H258.6Z" fill="#f41e10"/>
<path d="M277.7 643.3L284.5 655.1H270.9Z" fill="#f41e10"/>
<path d="M297.7 643.3L304.5 655.1H290.9Z" fill="#f41e10"/>
<path d="M350.8 643.3L357.6 655.1H344Z" fill="#f41e10"/>
<path d="M348.5 667.9L355.3 679.7H341.7Z" fill="#f41e10"/>
<path d="M438 46L442.1 53H433.9Z" fill="#f41e10"/>
<path d="M187 64.2L193.8 52.4H180.2Z" fill="#f8bc00"/>
<path d="M204 65.1L210.8 53.3H197.2Z" fill="#f8bc00"/>
<path d="M227.5 66.9L234.3 55.1H220.7Z" fill="#f8bc00"/>
<path d="M204 76.9L210.8 65.1H197.2Z" fill="#f8bc00"/>
<path d="M236.4 76.9L243.2 65.1H229.6Z" fill="#f8bc00"/>
<path d="M203.2 124.4L210 112.6H196.4Z" fill="#f8bc00"/>
<path d="M223.9 129.8L230.7 118H217.1Z" fill="#f8bc00"/>
<path d="M232.4 65.8L239.2 54H225.6Z" fill="#f8bc00"/>
<path d="M237.1 73.9L243.9 62.1H230.3Z" fill="#f8bc00"/>
<path d="M285.5 74.9L292.3 63.1H278.7Z" fill="#f8bc00"/>
<path d="M301 68.1L307.8 56.3H294.2Z" fill="#f8bc00"/>
<path d="M302.2 75.2L309 63.4H295.4Z" fill="#f8bc00"/>
<path d="M321.1 66.9L327.9 55.1H314.3Z" fill="#f8bc00"/>
<path d="M246.6 107.2L253.4 95.4H239.8Z" fill="#f8bc00"/>
<path d="M250.7 122.5L257.5 110.7H243.9Z" fill="#f8bc00"/>
<path d="M272.6 119L279.4 107.2H265.8Z" fill="#f8bc00"/>
<path d="M285.6 117.9L292.4 106.1H278.8Z" fill="#f8bc00"/>
<path d="M276.2 130.9L283 119.1H269.4Z" fill="#f8bc00"/>
<path d="M303.4 126.1L310.2 114.3H296.6Z" fill="#f8bc00"/>
<path d="M343 51.5L349.8 39.7H336.2Z" fill="#f8bc00"/>
<path d="M345.4 66.3L352.2 54.5H338.6Z" fill="#f8bc00"/>
<path d="M376.2 69.9L383 58.1H369.4Z" fill="#f8bc00"/>
<path d="M352.5 77.6L359.3 65.8H345.7Z" fill="#f8bc00"/>
<path d="M364.3 77.6L371.1 65.8H357.5Z" fill="#f8bc00"/>
<path d="M385.6 77.6L392.4 65.8H378.8Z" fill="#f8bc00"/>
<path d="M410.5 77.6L417.3 65.8H403.7Z" fill="#f8bc00"/>
<path d="M334 75.9L340.8 64.1H327.2Z" fill="#f8bc00"/>
<path d="M349.5 108.4L356.3 96.6H342.7Z" fill="#f8bc00"/>
<path d="M391.5 108.9L398.3 97.1H384.7Z" fill="#f8bc00"/>
<path d="M379.1 121.4L385.9 109.6H372.3Z" fill="#f8bc00"/>
<path d="M338.3 139.7L345.1 127.9H331.5Z" fill="#f8bc00"/>
<path d="M204.3 151.3L211.1 139.5H197.5Z" fill="#f8bc00"/>
<path d="M205.5 156L212.3 144.2H198.7Z" fill="#f8bc00"/>
<path d="M218.5 154.8L225.3 143H211.7Z" fill="#f8bc00"/>
<path d="M224.4 173.8L231.2 162H217.6Z" fill="#f8bc00"/>
<path d="M234.5 179.7L241.3 167.9H227.7Z" fill="#f8bc00"/>
<path d="M236.3 198.6L243.1 186.8H229.5Z" fill="#f8bc00"/>
<path d="M243.4 203.4L250.2 191.6H236.6Z" fill="#f8bc00"/>
<path d="M215 227L221.8 215.2H208.2Z" fill="#f8bc00"/>
<path d="M224.4 227L231.2 215.2H217.6Z" fill="#f8bc00"/>
<path d="M274.8 148.9L281.6 137.1H268Z" fill="#f8bc00"/>
<path d="M275.4 154.8L282.2 143H268.6Z" fill="#f8bc00"/>
<path d="M338.1 144.2L344.9 132.4H331.3Z" fill="#f8bc00"/>
<path d="M353.5 225.9L360.3 214.1H346.7Z" fill="#f8bc00"/>
<path d="M388.5 150.1L395.3 138.3H381.7Z" fill="#f8bc00"/>
<path d="M400.4 156L407.2 144.2H393.6Z" fill="#f8bc00"/>
<path d="M406.3 156L413.1 144.2H399.5Z" fill="#f8bc00"/>
<path d="M414.6 150.1L421.4 138.3H407.8Z" fill="#f8bc00"/>
<path d="M415.7 157.2L422.5 145.4H408.9Z" fill="#f8bc00"/>
<path d="M432.3 156L439.1 144.2H425.5Z" fill="#f8bc00"/>
<path d="M187.8 256.9L194.6 245.1H181Z" fill="#f8bc00"/>
<path d="M190.1 306.6L196.9 294.8H183.3Z" fill="#f8bc00"/>
<path d="M213.8 306L220.6 294.2H207Z" fill="#f8bc00"/>
<path d="M224.4 264L231.2 252.2H217.6Z" fill="#f8bc00"/>
<path d="M225 293.6L231.8 281.8H218.2Z" fill="#f8bc00"/>
<path d="M225 319.1L231.8 307.3H218.2Z" fill="#f8bc00"/>
<path d="M241 239.8L247.8 228H234.2Z" fill="#f8bc00"/>
<path d="M243.4 287.7L250.2 275.9H236.6Z" fill="#f8bc00"/>
<path d="M248.1 294.8L254.9 283H241.3Z" fill="#f8bc00"/>
<path d="M256.4 264L263.2 252.2H249.6Z" fill="#f8bc00"/>
<path d="M264.7 294.8L271.5 283H257.9Z" fill="#f8bc00"/>
<path d="M263.5 311.4L270.3 299.6H256.7Z" fill="#f8bc00"/>
<path d="M290.8 264L297.6 252.2H284Z" fill="#f8bc00"/>
<path d="M328.6 264L335.4 252.2H321.8Z" fill="#f8bc00"/>
<path d="M268.3 306.6L275.1 294.8H261.5Z" fill="#f8bc00"/>
<path d="M353.5 304.3L360.3 292.5H346.7Z" fill="#f8bc00"/>
<path d="M372 305.5L378.8 293.7H365.2Z" fill="#f8bc00"/>
<path d="M393.3 324.4L400.1 312.6H386.5Z" fill="#f8bc00"/>
<path d="M405.7 318.5L412.5 306.7H398.9Z" fill="#f8bc00"/>
<path d="M150 64.9L156.8 53.1H143.2Z" fill="#f8bc00"/>
<path d="M150 70.9L156.8 59.1H143.2Z" fill="#f8bc00"/>
<path d="M150 75.9L156.8 64.1H143.2Z" fill="#f8bc00"/>
<path d="M150 112.9L156.8 101.1H143.2Z" fill="#f8bc00"/>
<path d="M150 117.9L156.8 106.1H143.2Z" fill="#f8bc00"/>
<path d="M150 157.9L156.8 146.1H143.2Z" fill="#f8bc00"/>
<path d="M150 173.9L156.8 162.1H143.2Z" fill="#f8bc00"/>
<path d="M150 179.9L156.8 168.1H143.2Z" fill="#f8bc00"/>
<path d="M150 195.9L156.8 184.1H143.2Z" fill="#f8bc00"/>
<path d="M150 201.9L156.8 190.1H143.2Z" fill="#f8bc00"/>
<path d="M150 236.9L156.8 225.1H143.2Z" fill="#f8bc00"/>
<path d="M150 262.9L156.8 251.1H143.2Z" fill="#f8bc00"/>
<path d="M150 293.9L156.8 282.1H143.2Z" fill="#f8bc00"/>
<path d="M150 305.9L156.8 294.1H143.2Z" fill="#f8bc00"/>
<path d="M150 328.9L156.8 317.1H143.2Z" fill="#f8bc00"/>
<path d="M150 334.9L156.8 323.1H143.2Z" fill="#f8bc00"/>
<path d="M150 345.9L156.8 334.1H143.2Z" fill="#f8bc00"/>
<path d="M150 349.9L156.8 338.1H143.2Z" fill="#f8bc00"/>
<path d="M150 420.9L156.8 409.1H143.2Z" fill="#f8bc00"/>
<path d="M150 425.9L156.8 414.1H143.2Z" fill="#f8bc00"/>
<path d="M150 442.9L156.8 431.1H143.2Z" fill="#f8bc00"/>
<path d="M150 449.9L156.8 438.1H143.2Z" fill="#f8bc00"/>
<path d="M150 522.9L156.8 511.1H143.2Z" fill="#f8bc00"/>
<path d="M150 534.9L156.8 523.1H143.2Z" fill="#f8bc00"/>
<path d="M150 545.9L156.8 534.1H143.2Z" fill="#f8bc00"/>
<path d="M150 549.9L156.8 538.1H143.2Z" fill="#f8bc00"/>
<path d="M150 564.9L156.8 553.1H143.2Z" fill="#f8bc00"/>
<path d="M222.1 414.7L228.9 402.9H215.3Z" fill="#f8bc00"/>
<path d="M235.7 420.6L242.5 408.8H228.9Z" fill="#f8bc00"/>
<path d="M248.1 424.7L254.9 412.9H241.3Z" fill="#f8bc00"/>
<path d="M290.8 337.7L297.6 325.9H284Z" fill="#f8bc00"/>
<path d="M351.1 396.9L357.9 385.1H344.3Z" fill="#f8bc00"/>
<path d="M414.6 354.3L421.4 342.5H407.8Z" fill="#f8bc00"/>
<path d="M233.9 423.3L240.7 411.5H227.1Z" fill="#f8bc00"/>
<path d="M248.1 428L254.9 416.2H241.3Z" fill="#f8bc00"/>
<path d="M202 450.5L208.8 438.7H195.2Z" fill="#f8bc00"/>
<path d="M225.6 446.9L232.4 435.1H218.8Z" fill="#f8bc00"/>
<path d="M359.5 450.9L366.3 439.1H352.7Z" fill="#f8bc00"/>
<path d="M386.2 433.9L393 422.1H379.4Z" fill="#f8bc00"/>
<path d="M187.8 523.9L194.6 512.1H181Z" fill="#f8bc00"/>
<path d="M233.3 523.9L240.1 512.1H226.5Z" fill="#f8bc00"/>
<path d="M187.8 547.6L194.6 535.8H181Z" fill="#f8bc00"/>
<path d="M225.6 542.9L232.4 531.1H218.8Z" fill="#f8bc00"/>
<path d="M215 548.8L221.8 537H208.2Z" fill="#f8bc00"/>
<path d="M271.8 548.8L278.6 537H265Z" fill="#f8bc00"/>
<path d="M377.3 523.9L384.1 512.1H370.5Z" fill="#f8bc00"/>
<path d="M370.8 548.8L377.6 537H364Z" fill="#f8bc00"/>
<path d="M374.3 546.4L381.1 534.6H367.5Z" fill="#f8bc00"/>
<path d="M393.8 541.1L400.6 529.3H387Z" fill="#f8bc00"/>
<path d="M330.8 692.9L337.6 681.1H324Z" fill="#f8bc00"/>
<path d="M360 699L366.8 687.2H353.2Z" fill="#f8bc00"/>
<path d="M450.6 51.7L457.4 39.9H443.8Z" fill="#f8bc00"/>
<path d="M464 70.7L470.8 58.9H457.2Z" fill="#f8bc00"/>
<path d="M470.5 76.5L477.3 64.7H463.7Z" fill="#f8bc00"/>
<path d="M506.1 70.7L512.9 58.9H499.3Z" fill="#f8bc00"/>
<path d="M430 107.2L436.8 95.4H423.2Z" fill="#f8bc00"/>
<path d="M468.9 107.2L475.7 95.4H462.1Z" fill="#f8bc00"/>
<path d="M492 107.2L498.8 95.4H485.2Z" fill="#f8bc00"/>
<path d="M425.8 155.2L432.6 143.4H419Z" fill="#f8bc00"/>
<path d="M438.2 155.2L445 143.4H431.4Z" fill="#f8bc00"/>
<path d="M430.8 324.9L437.6 313.1H424Z" fill="#f8bc00"/>
<path d="M472.2 318.3L479 306.5H465.4Z" fill="#f8bc00"/>
<path d="M477.2 523.7L484 511.9H470.4Z" fill="#f8bc00"/>
<path d="M427.5 548.6L434.3 536.8H420.7Z" fill="#f8bc00"/>
<path d="M473.8 546.9L480.6 535.1H467Z" fill="#f8bc00"/>
<path d="M500.4 542.8L507.2 531H493.6Z" fill="#f8bc00"/>
<path d="M518.6 555.2L525.4 543.4H511.8Z" fill="#f8bc00"/>
<path d="M426.6 699.3L433.4 687.5H419.8Z" fill="#f8bc00"/>
<g stroke="#b39090" stroke-width="1.4" fill="none">
<path d="M359.4 131L372.6 131M361.3 126.3L370.7 135.7M366 124.4L366 137.6M370.7 126.3L361.3 135.7"/>
<path d="M245.1 141.8L258.3 141.8M247 137.1L256.4 146.5M251.7 135.2L251.7 148.4M256.4 137.1L247 146.5"/>
<path d="M265.2 162L278.4 162M267.1 157.3L276.5 166.7M271.8 155.4L271.8 168.6M276.5 157.3L267.1 166.7"/>
<path d="M332.7 167.9L345.9 167.9M334.6 163.2L344 172.6M339.3 161.3L339.3 174.5M344 163.2L334.6 172.6"/>
<path d="M317.3 167.9L330.5 167.9M319.2 163.2L328.6 172.6M323.9 161.3L323.9 174.5M328.6 163.2L319.2 172.6"/>
<path d="M294.8 220L308 220M296.7 215.3L306.1 224.7M301.4 213.4L301.4 226.6M306.1 215.3L296.7 224.7"/>
<path d="M389 167.9L402.2 167.9M390.9 163.2L400.3 172.6M395.6 161.3L395.6 174.5M400.3 163.2L390.9 172.6"/>
<path d="M207.2 264.6L220.4 264.6M209.1 259.9L218.5 269.3M213.8 258L213.8 271.2M218.5 259.9L209.1 269.3"/>
<path d="M207.8 281.8L221 281.8M209.7 277.1L219.1 286.5M214.4 275.2L214.4 288.4M219.1 277.1L209.7 286.5"/>
<path d="M227.3 233.9L240.5 233.9M229.2 229.2L238.6 238.6M233.9 227.3L233.9 240.5M238.6 229.2L229.2 238.6"/>
<path d="M243.9 233.9L257.1 233.9M245.8 229.2L255.2 238.6M250.5 227.3L250.5 240.5M255.2 229.2L245.8 238.6"/>
<path d="M298.4 317.3L311.6 317.3M300.3 312.6L309.7 322M305 310.7L305 323.9M309.7 312.6L300.3 322"/>
<path d="M383.1 235.7L396.3 235.7M385 231L394.4 240.4M389.7 229.1L389.7 242.3M394.4 231L385 240.4"/>
<path d="M409.1 323.2L422.3 323.2M411 318.5L420.4 327.9M415.7 316.6L415.7 329.8M420.4 318.5L411 327.9"/>
<path d="M143.4 134L156.6 134M145.3 129.3L154.7 138.7M150 127.4L150 140.6M154.7 129.3L145.3 138.7"/>
<path d="M143.4 376L156.6 376M145.3 371.3L154.7 380.7M150 369.4L150 382.6M154.7 371.3L145.3 380.7"/>
<path d="M177.6 414.7L190.8 414.7M179.5 410L188.9 419.4M184.2 408.1L184.2 421.3M188.9 410L179.5 419.4"/>
<path d="M258.1 337.8L271.3 337.8M260 333.1L269.4 342.5M264.7 331.2L264.7 344.4M269.4 333.1L260 342.5"/>
<path d="M336.4 327L349.6 327M338.3 322.3L347.7 331.7M343 320.4L343 333.6M347.7 322.3L338.3 331.7"/>
<path d="M348.4 333L361.6 333M350.3 328.3L359.7 337.7M355 326.4L355 339.6M359.7 328.3L350.3 337.7"/>
<path d="M180 483.6L193.2 483.6M181.9 478.9L191.3 488.3M186.6 477L186.6 490.2M191.3 478.9L181.9 488.3"/>
<path d="M213.1 483.6L226.3 483.6M215 478.9L224.4 488.3M219.7 477L219.7 490.2M224.4 478.9L215 488.3"/>
<path d="M357.1 483L370.3 483M359 478.3L368.4 487.7M363.7 476.4L363.7 489.6M368.4 478.3L359 487.7"/>
<path d="M402 530.4L415.2 530.4M403.9 525.7L413.3 535.1M408.6 523.8L408.6 537M413.3 525.7L403.9 535.1"/>
<path d="M271.9 620L285.1 620M273.8 615.3L283.2 624.7M278.5 613.4L278.5 626.6M283.2 615.3L273.8 624.7"/>
<path d="M232.6 649.2L245.8 649.2M234.5 644.5L243.9 653.9M239.2 642.6L239.2 655.8M243.9 644.5L234.5 653.9"/>
<path d="M184.9 681.5L198.1 681.5M186.8 676.8L196.2 686.2M191.5 674.9L191.5 688.1M196.2 676.8L186.8 686.2"/>
<path d="M197.2 681.5L210.4 681.5M199.1 676.8L208.5 686.2M203.8 674.9L203.8 688.1M208.5 676.8L199.1 686.2"/>
<path d="M274.9 681.5L288.1 681.5M276.8 676.8L286.2 686.2M281.5 674.9L281.5 688.1M286.2 676.8L276.8 686.2"/>
<path d="M397.2 620L410.4 620M399.1 615.3L408.5 624.7M403.8 613.4L403.8 626.6M408.5 615.3L399.1 624.7"/>
<path d="M334.2 649.2L347.4 649.2M336.1 644.5L345.5 653.9M340.8 642.6L340.8 655.8M345.5 644.5L336.1 653.9"/>
<path d="M542.4 100L555.6 100M544.3 95.3L553.7 104.7M549 93.4L549 106.6M553.7 95.3L544.3 104.7"/>
<path d="M688.6 144L701.8 144M690.5 139.3L699.9 148.7M695.2 137.4L695.2 150.6M699.9 139.3L690.5 148.7"/>
<path d="M757.9 167.9L771.1 167.9M759.8 163.2L769.2 172.6M764.5 161.3L764.5 174.5M769.2 163.2L759.8 172.6"/>
<path d="M553.3 234.6L566.5 234.6M555.2 229.9L564.6 239.3M559.9 228L559.9 241.2M564.6 229.9L555.2 239.3"/>
<path d="M594 234.6L607.2 234.6M595.9 229.9L605.3 239.3M600.6 228L600.6 241.2M605.3 229.9L595.9 239.3"/>
<path d="M609.2 265L622.4 265M611.1 260.3L620.5 269.7M615.8 258.4L615.8 271.6M620.5 260.3L611.1 269.7"/>
<path d="M563 283L576.2 283M564.9 278.3L574.3 287.7M569.6 276.4L569.6 289.6M574.3 278.3L564.9 287.7"/>
<path d="M707.4 318.3L720.6 318.3M709.3 313.6L718.7 323M714 311.7L714 324.9M718.7 313.6L709.3 323"/>
<path d="M784.4 318.3L797.6 318.3M786.3 313.6L795.7 323M791 311.7L791 324.9M795.7 313.6L786.3 323"/>
<path d="M566.6 330.7L579.8 330.7M568.5 326L577.9 335.4M573.2 324.1L573.2 337.3M577.9 326L568.5 335.4"/>
<path d="M547.8 337.9L561 337.9M549.7 333.2L559.1 342.6M554.4 331.3L554.4 344.5M559.1 333.2L549.7 342.6"/>
<path d="M579.6 341.5L592.8 341.5M581.5 336.8L590.9 346.2M586.2 334.9L586.2 348.1M590.9 336.8L581.5 346.2"/>
<path d="M569.5 347.7L582.7 347.7M571.4 343L580.8 352.4M576.1 341.1L576.1 354.3M580.8 343L571.4 352.4"/>
<path d="M624.4 337.9L637.6 337.9M626.3 333.2L635.7 342.6M631 331.3L631 344.5M635.7 333.2L626.3 342.6"/>
<path d="M677.1 336.1L690.3 336.1M679 331.4L688.4 340.8M683.7 329.5L683.7 342.7M688.4 331.4L679 340.8"/>
<path d="M679.6 339L692.8 339M681.5 334.3L690.9 343.7M686.2 332.4L686.2 345.6M690.9 334.3L681.5 343.7"/>
<path d="M532.9 374L546.1 374M534.8 369.3L544.2 378.7M539.5 367.4L539.5 380.6M544.2 369.3L534.8 378.7"/>
<path d="M554.4 374L567.6 374M556.3 369.3L565.7 378.7M561 367.4L561 380.6M565.7 369.3L556.3 378.7"/>
<path d="M533.7 409.2L546.9 409.2M535.6 404.5L545 413.9M540.3 402.6L540.3 415.8M545 404.5L535.6 413.9"/>
<path d="M550.7 409L563.9 409M552.6 404.3L562 413.7M557.3 402.4L557.3 415.6M562 404.3L552.6 413.7"/>
<path d="M804.2 483.4L817.4 483.4M806.1 478.7L815.5 488.1M810.8 476.8L810.8 490M815.5 478.7L806.1 488.1"/>
<path d="M573.1 619.8L586.3 619.8M575 615.1L584.4 624.5M579.7 613.2L579.7 626.4M584.4 615.1L575 624.5"/>
<path d="M561.6 649.4L574.8 649.4M563.5 644.7L572.9 654.1M568.2 642.8L568.2 656M572.9 644.7L563.5 654.1"/>
<path d="M569.5 681.2L582.7 681.2M571.4 676.5L580.8 685.9M576.1 674.6L576.1 687.8M580.8 676.5L571.4 685.9"/>
<path d="M616.4 681.2L629.6 681.2M618.3 676.5L627.7 685.9M623 674.6L623 687.8M627.7 676.5L618.3 685.9"/>
<path d="M657.9 681.2L671.1 681.2M659.8 676.5L669.2 685.9M664.5 674.6L664.5 687.8M669.2 676.5L659.8 685.9"/>
<path d="M532.9 802L546.1 802M534.8 797.3L544.2 806.7M539.5 795.4L539.5 808.6M544.2 797.3L534.8 806.7"/>
<path d="M593 801.8L606.2 801.8M594.9 797.1L604.3 806.5M599.6 795.2L599.6 808.4M604.3 797.1L594.9 806.5"/>
<path d="M497.9 87.2L511.1 87.2M499.8 82.5L509.2 91.9M504.5 80.6L504.5 93.8M509.2 82.5L499.8 91.9"/>
<path d="M512 88L525.2 88M513.9 83.3L523.3 92.7M518.6 81.4L518.6 94.6M523.3 83.3L513.9 92.7"/>
<path d="M435.8 100.4L449 100.4M437.7 95.7L447.1 105.1M442.4 93.8L442.4 107M447.1 95.7L437.7 105.1"/>
<path d="M526.9 100.4L540.1 100.4M528.8 95.7L538.2 105.1M533.5 93.8L533.5 107M538.2 95.7L528.8 105.1"/>
<path d="M509.5 131.9L522.7 131.9M511.4 127.2L520.8 136.6M516.1 125.3L516.1 138.5M520.8 127.2L511.4 136.6"/>
<path d="M521.9 131.9L535.1 131.9M523.8 127.2L533.2 136.6M528.5 125.3L528.5 138.5M533.2 127.2L523.8 136.6"/>
<path d="M473 167.5L486.2 167.5M474.9 162.8L484.3 172.2M479.6 160.9L479.6 174.1M484.3 162.8L474.9 172.2"/>
<path d="M508.7 167.5L521.9 167.5M510.6 162.8L520 172.2M515.3 160.9L515.3 174.1M520 162.8L510.6 172.2"/>
<path d="M428.6 234.9L441.8 234.9M430.5 230.2L439.9 239.6M435.2 228.3L435.2 241.5M439.9 230.2L430.5 239.6"/>
<path d="M462.8 234.6L476 234.6M464.7 229.9L474.1 239.3M469.4 228L469.4 241.2M474.1 229.9L464.7 239.3"/>
<path d="M497.1 335.6L510.3 335.6M499 330.9L508.4 340.3M503.7 329L503.7 342.2M508.4 330.9L499 340.3"/>
<path d="M513.6 338.9L526.8 338.9M515.5 334.2L524.9 343.6M520.2 332.3L520.2 345.5M524.9 334.2L515.5 343.6"/>
<path d="M457.3 347.2L470.5 347.2M459.2 342.5L468.6 351.9M463.9 340.6L463.9 353.8M468.6 342.5L459.2 351.9"/>
<path d="M418.4 373.7L431.6 373.7M420.3 369L429.7 378.4M425 367.1L425 380.3M429.7 369L420.3 378.4"/>
<path d="M425 409.3L438.2 409.3M426.9 404.6L436.3 414M431.6 402.7L431.6 415.9M436.3 404.6L426.9 414"/>
<path d="M470.6 415.1L483.8 415.1M472.5 410.4L481.9 419.8M477.2 408.5L477.2 421.7M481.9 410.4L472.5 419.8"/>
<path d="M485.5 415.1L498.7 415.1M487.4 410.4L496.8 419.8M492.1 408.5L492.1 421.7M496.8 410.4L487.4 419.8"/>
<path d="M490.4 415.1L503.6 415.1M492.3 410.4L501.7 419.8M497 408.5L497 421.7M501.7 410.4L492.3 419.8"/>
<path d="M502.9 415.1L516.1 415.1M504.8 410.4L514.2 419.8M509.5 408.5L509.5 421.7M514.2 410.4L504.8 419.8"/>
<path d="M478 681.3L491.2 681.3M479.9 676.6L489.3 686M484.6 674.7L484.6 687.9M489.3 676.6L479.9 686"/>
</g>
<g fill="#7a5555">
<circle cx="366" cy="131" r="1.6"/>
<circle cx="251.7" cy="141.8" r="1.6"/>
<circle cx="271.8" cy="162" r="1.6"/>
<circle cx="339.3" cy="167.9" r="1.6"/>
<circle cx="323.9" cy="167.9" r="1.6"/>
<circle cx="301.4" cy="220" r="1.6"/>
<circle cx="395.6" cy="167.9" r="1.6"/>
<circle cx="213.8" cy="264.6" r="1.6"/>
<circle cx="214.4" cy="281.8" r="1.6"/>
<circle cx="233.9" cy="233.9" r="1.6"/>
<circle cx="250.5" cy="233.9" r="1.6"/>
<circle cx="305" cy="317.3" r="1.6"/>
<circle cx="389.7" cy="235.7" r="1.6"/>
<circle cx="415.7" cy="323.2" r="1.6"/>
<circle cx="150" cy="134" r="1.6"/>
<circle cx="150" cy="376" r="1.6"/>
<circle cx="184.2" cy="414.7" r="1.6"/>
<circle cx="264.7" cy="337.8" r="1.6"/>
<circle cx="343" cy="327" r="1.6"/>
<circle cx="355" cy="333" r="1.6"/>
<circle cx="186.6" cy="483.6" r="1.6"/>
<circle cx="219.7" cy="483.6" r="1.6"/>
<circle cx="363.7" cy="483" r="1.6"/>
<circle cx="408.6" cy="530.4" r="1.6"/>
<circle cx="278.5" cy="620" r="1.6"/>
<circle cx="239.2" cy="649.2" r="1.6"/>
<circle cx="191.5" cy="681.5" r="1.6"/>
<circle cx="203.8" cy="681.5" r="1.6"/>
<circle cx="281.5" cy="681.5" r="1.6"/>
<circle cx="403.8" cy="620" r="1.6"/>
<circle cx="340.8" cy="649.2" r="1.6"/>
<circle cx="549" cy="100" r="1.6"/>
<circle cx="695.2" cy="144" r="1.6"/>
<circle cx="764.5" cy="167.9" r="1.6"/>
<circle cx="559.9" cy="234.6" r="1.6"/>
<circle cx="600.6" cy="234.6" r="1.6"/>
<circle cx="615.8" cy="265" r="1.6"/>
<circle cx="569.6" cy="283" r="1.6"/>
<circle cx="714" cy="318.3" r="1.6"/>
<circle cx="791" cy="318.3" r="1.6"/>
<circle cx="573.2" cy="330.7" r="1.6"/>
<circle cx="554.4" cy="337.9" r="1.6"/>
<circle cx="586.2" cy="341.5" r="1.6"/>
<circle cx="576.1" cy="347.7" r="1.6"/>
<circle cx="631" cy="337.9" r="1.6"/>
<circle cx="683.7" cy="336.1" r="1.6"/>
<circle cx="686.2" cy="339" r="1.6"/>
<circle cx="539.5" cy="374" r="1.6"/>
<circle cx="561" cy="374" r="1.6"/>
<circle cx="540.3" cy="409.2" r="1.6"/>
<circle cx="557.3" cy="409" r="1.6"/>
<circle cx="810.8" cy="483.4" r="1.6"/>
<circle cx="579.7" cy="619.8" r="1.6"/>
<circle cx="568.2" cy="649.4" r="1.6"/>
<circle cx="576.1" cy="681.2" r="1.6"/>
<circle cx="623" cy="681.2" r="1.6"/>
<circle cx="664.5" cy="681.2" r="1.6"/>
<circle cx="539.5" cy="802" r="1.6"/>
<circle cx="599.6" cy="801.8" r="1.6"/>
<circle cx="504.5" cy="87.2" r="1.6"/>
<circle cx="518.6" cy="88" r="1.6"/>
<circle cx="442.4" cy="100.4" r="1.6"/>
<circle cx="533.5" cy="100.4" r="1.6"/>
<circle cx="516.1" cy="131.9" r="1.6"/>
<circle cx="528.5" cy="131.9" r="1.6"/>
<circle cx="479.6" cy="167.5" r="1.6"/>
<circle cx="515.3" cy="167.5" r="1.6"/>
<circle cx="435.2" cy="234.9" r="1.6"/>
<circle cx="469.4" cy="234.6" r="1.6"/>
<circle cx="503.7" cy="335.6" r="1.6"/>
<circle cx="520.2" cy="338.9" r="1.6"/>
<circle cx="463.9" cy="347.2" r="1.6"/>
<circle cx="425" cy="373.7" r="1.6"/>
<circle cx="431.6" cy="409.3" r="1.6"/>
<circle cx="477.2" cy="415.1" r="1.6"/>
<circle cx="492.1" cy="415.1" r="1.6"/>
<circle cx="497" cy="415.1" r="1.6"/>
<circle cx="509.5" cy="415.1" r="1.6"/>
<circle cx="484.6" cy="681.3" r="1.6"/>
</g></g>
<g fill="none" stroke="#808080" stroke-width="2.2">
<line x1="149.7" y1="0" x2="149.7" y2="873"/>
<line x1="421.5" y1="0" x2="421.5" y2="873"/>
<line x1="341.5" y1="-4.3" x2="341.5" y2="873.5" stroke-dasharray="16 7.3"/>
<line x1="117" y1="40.5" x2="845" y2="40.5"/>
</g>
<g id="fit">
<polygon points="291.5,41 292.7,100 294.1,156 294.8,200 295.5,250 297.1,360 297.6,420 298.6,490 300.5,600 302.5,832.5 348,832.5 344.5,700 341.7,600 339,492 337.5,405 336.2,350 334.8,300 333.8,240 332,184 330.4,100 330.5,41" fill="#1a1aff" fill-opacity="0.19"/>
<polyline points="302.5,832.5 300.5,600 298.6,490 297.6,420 297.1,360 295.5,250 294.8,200 294.1,156 292.7,100 291.5,41" fill="none" stroke="#1616d8" stroke-width="3.3" stroke-dasharray="13.5 14.5" stroke-dashoffset="1.5"/>
<polyline points="348,832.5 344.5,700 341.7,600 339,492 337.5,405 336.2,350 334.8,300 333.8,240 332,184 330.4,100 330.5,41" fill="none" stroke="#1616d8" stroke-width="3.3" stroke-dasharray="13.5 14.5" stroke-dashoffset="1.5"/>
<polyline points="313,42 315.5,250 318,345 319.7,515 322,600 328,832.5" fill="none" stroke="#00008b" stroke-width="7"/>
</g>
<g fill="#4d4d4d">
<g stroke="#333" stroke-width="2">
<line x1="110" y1="40.5" x2="117" y2="40.5"/>
<line x1="110" y1="238.4" x2="117" y2="238.4"/>
<line x1="110" y1="436.8" x2="117" y2="436.8"/>
<line x1="110" y1="635.5" x2="117" y2="635.5"/>
<line x1="110" y1="833.6" x2="117" y2="833.6"/>
<line x1="246" y1="873.5" x2="246" y2="880.5"/>
<line x1="285.5" y1="873.5" x2="285.5" y2="880.5"/>
<line x1="341.5" y1="873.5" x2="341.5" y2="880.5"/>
<line x1="421.5" y1="873.5" x2="421.5" y2="880.5"/>
<line x1="533.8" y1="873.5" x2="533.8" y2="880.5"/>
<line x1="692.5" y1="873.5" x2="692.5" y2="880.5"/>
<line x1="813.8" y1="873.5" x2="813.8" y2="880.5"/>
</g>
<g font-size="33" text-anchor="end" stroke="#4d4d4d" stroke-width="0.5">
<text x="106" y="53.4">0</text>
<text x="106" y="251">10</text>
<text x="106" y="449.4">20</text>
<text x="106" y="647.8">30</text>
<text x="106" y="846.2">40</text>
</g>
<g font-size="33" text-anchor="middle" stroke="#4d4d4d" stroke-width="0.5">
<text x="246" y="910.5">1</text>
<text x="285.5" y="910.5">2</text>
<text x="341.5" y="910.5">4</text>
<text x="421.5" y="910.5">8</text>
<text x="534.5" y="910.5">16</text>
<text x="693" y="910.5">32</text>
<text x="813.5" y="910.5">48</text>
</g>
</g>
<g fill="#1a1a1a" stroke="#1a1a1a" stroke-width="0.55">
<text x="217" y="978" font-size="33.6">Heating Event Severity (Max DHW)</text>
<text transform="translate(27,481.5) rotate(-90)" font-size="34">Depth</text>
<text x="677.5" y="526" font-size="23.5" text-anchor="middle" stroke="none" fill="#262626">NS</text>
<text x="678" y="555" font-size="23.5" text-anchor="middle" stroke="none" fill="#262626">P&gt; 0.05</text>
<text x="156" y="1078.5" font-size="31">Region</text>
<text x="329" y="1059" font-size="31">MHI</text>
<text x="329" y="1107.5" font-size="31">AMSM</text>
<text x="496" y="1059" font-size="31">NWHI</text>
<text x="496" y="1107.5" font-size="31">N-PRIA</text>
<text x="700" y="1059" font-size="31">CNMI-G</text>
<text x="700" y="1107.5" font-size="31">EQ-PRIA</text>
</g>
<g>
<circle cx="294.8" cy="1047" r="10.8" fill="#72cff3"/>
<path d="M295 1079.8L309.4 1104.6H280.6Z" fill="#f41e10"/>
<rect x="451.3" y="1038.2" width="19.8" height="19.8" fill="#4a12a4"/>
<path d="M462 1110.6L476.3 1085.6H447.7Z" fill="#f8bc00"/>
<path d="M663.5 1033.4L677 1046.9L663.5 1060.4L650 1046.9Z" fill="#0f924d"/>
<g stroke="#b99c9c" stroke-width="2.1" stroke-linecap="round"><path d="M666 1079.3V1106.3M652.5 1092.8H679.5M656.5 1083.3L675.5 1102.3M656.5 1102.3L675.5 1083.3"/></g>
<circle cx="666" cy="1092.8" r="2" fill="#6e4e4e"/>
</g>
</g>
</svg>
</body></html>
